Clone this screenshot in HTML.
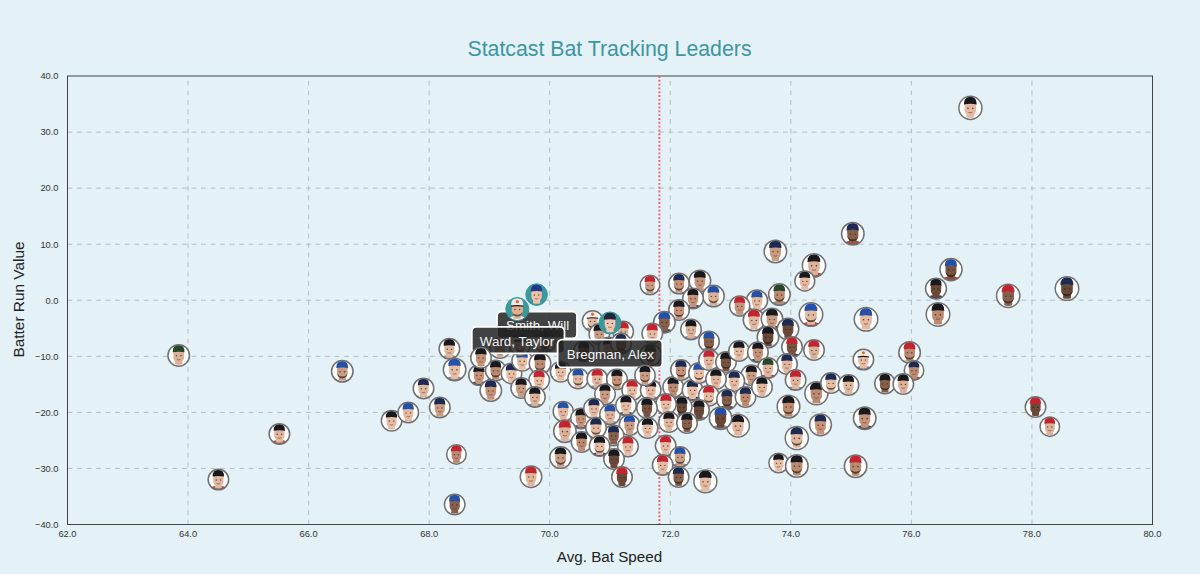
<!DOCTYPE html><html><head><meta charset="utf-8"><style>html,body{margin:0;padding:0;background:#e4f1f6;overflow:hidden;}svg{display:block;font-family:"Liberation Sans",sans-serif;}</style></head><body>
<svg width="1200" height="574" viewBox="0 0 1200 574">
<defs><clipPath id="fc"><circle cx="0" cy="0" r="10.6"/></clipPath></defs>
<rect width="1200" height="574" fill="#e4f1f6"/>
<g stroke="#b9bdbd" stroke-width="1" stroke-dasharray="4.77,4.77" fill="none"><line x1="188.06" y1="524.5" x2="188.06" y2="76.0"/><line x1="308.61" y1="524.5" x2="308.61" y2="76.0"/><line x1="429.17" y1="524.5" x2="429.17" y2="76.0"/><line x1="549.72" y1="524.5" x2="549.72" y2="76.0"/><line x1="670.28" y1="524.5" x2="670.28" y2="76.0"/><line x1="790.83" y1="524.5" x2="790.83" y2="76.0"/><line x1="911.39" y1="524.5" x2="911.39" y2="76.0"/><line x1="1031.94" y1="524.5" x2="1031.94" y2="76.0"/><line x1="67.5" y1="132.1" x2="1152.5" y2="132.1"/><line x1="67.5" y1="188.1" x2="1152.5" y2="188.1"/><line x1="67.5" y1="244.2" x2="1152.5" y2="244.2"/><line x1="67.5" y1="300.2" x2="1152.5" y2="300.2"/><line x1="67.5" y1="356.3" x2="1152.5" y2="356.3"/><line x1="67.5" y1="412.4" x2="1152.5" y2="412.4"/><line x1="67.5" y1="468.4" x2="1152.5" y2="468.4"/></g>
<rect x="67.5" y="76.0" width="1085.0" height="448.5" fill="none" stroke="#444" stroke-width="1"/>
<g font-size="9.3" fill="#333"><text x="67.5" y="537" text-anchor="middle">62.0</text><text x="188.1" y="537" text-anchor="middle">64.0</text><text x="308.6" y="537" text-anchor="middle">66.0</text><text x="429.2" y="537" text-anchor="middle">68.0</text><text x="549.7" y="537" text-anchor="middle">70.0</text><text x="670.3" y="537" text-anchor="middle">72.0</text><text x="790.8" y="537" text-anchor="middle">74.0</text><text x="911.4" y="537" text-anchor="middle">76.0</text><text x="1031.9" y="537" text-anchor="middle">78.0</text><text x="1152.5" y="537" text-anchor="middle">80.0</text><text x="58.5" y="79.3" text-anchor="end">40.0</text><text x="58.5" y="135.4" text-anchor="end">30.0</text><text x="58.5" y="191.4" text-anchor="end">20.0</text><text x="58.5" y="247.5" text-anchor="end">10.0</text><text x="58.5" y="303.6" text-anchor="end">0.0</text><text x="58.5" y="359.6" text-anchor="end">−10.0</text><text x="58.5" y="415.7" text-anchor="end">−20.0</text><text x="58.5" y="471.7" text-anchor="end">−30.0</text><text x="58.5" y="527.8" text-anchor="end">−40.0</text></g>
<text x="609.5" y="56.3" text-anchor="middle" font-size="21.3" fill="#3d96a1">Statcast Bat Tracking Leaders</text>
<text x="609.5" y="562.4" text-anchor="middle" font-size="15.2" fill="#222">Avg. Bat Speed</text>
<text transform="translate(23.5,299.5) rotate(-90)" text-anchor="middle" font-size="15.4" fill="#222">Batter Run Value</text>
<line x1="659.4" y1="76" x2="659.4" y2="524" stroke="#ec6870" stroke-width="2" stroke-dasharray="1.91,1.91"/>
<g transform="translate(178.7,355.4)"><circle r="10.75" fill="#fff"/><g transform="scale(1.019)" clip-path="url(#fc)"><path d="M-7.5,8.6 Q-6.5,6.8 -3,6.6 L3,6.6 Q6.5,6.8 7.5,8.6 L8,10.2 Q0,12.4 -8,10.2 Z" fill="#ffffff"/><path d="M-3.4,4 L3.4,4 L3.6,8.6 Q0,9.8 -3.6,8.6 Z" fill="#dcb199"/><path d="M-5.3,-4 L5.3,-4 L5.2,2.5 Q4.6,6.6 0,7 Q-4.6,6.6 -5.2,2.5 Z" fill="#dcb199"/><circle cx="-2.2" cy="0.4" r="0.75" fill="#2e211b" opacity="0.75"/><circle cx="2.2" cy="0.4" r="0.75" fill="#2e211b" opacity="0.75"/><path d="M-1.8,4 Q0,4.8 1.8,4" stroke="#6b3a2e" stroke-width="0.8" fill="none" opacity="0.7"/><path d="M-5.9,-3.2 Q-6.1,-10.2 0,-10.2 Q5.9,-10.2 5.7,-3.2 Q0,-4.2 -5.9,-3.2 Z" fill="#27472c"/></g><circle r="10.75" fill="none" stroke="#707070" stroke-width="1.5"/></g>
<g transform="translate(342.3,371.3)"><circle r="10.75" fill="#fff"/><g transform="scale(1.019)" clip-path="url(#fc)"><path d="M-7.5,8.6 Q-6.5,6.8 -3,6.6 L3,6.6 Q6.5,6.8 7.5,8.6 L8,10.2 Q0,12.4 -8,10.2 Z" fill="#ffffff"/><path d="M-3.4,4 L3.4,4 L3.6,8.6 Q0,9.8 -3.6,8.6 Z" fill="#c99d84"/><path d="M-5.3,-4 L5.3,-4 L5.2,2.5 Q4.6,6.6 0,7 Q-4.6,6.6 -5.2,2.5 Z" fill="#c99d84"/><circle cx="-2.2" cy="0.4" r="0.75" fill="#2e211b" opacity="0.75"/><circle cx="2.2" cy="0.4" r="0.75" fill="#2e211b" opacity="0.75"/><path d="M-4.9,2.2 Q-4.4,6.8 0,7 Q4.4,6.8 4.9,2.2 Q3.6,5.3 0,5.2 Q-3.6,5.3 -4.9,2.2 Z" fill="#2a1c16" opacity="0.7"/><path d="M-5.9,-3.2 Q-6.1,-10.2 0,-10.2 Q5.9,-10.2 5.7,-3.2 Q0,-4.2 -5.9,-3.2 Z" fill="#2450a8"/></g><circle r="10.75" fill="none" stroke="#707070" stroke-width="1.5"/></g>
<g transform="translate(279.4,433.9)"><circle r="10.25" fill="#fff"/><g transform="scale(0.975)" clip-path="url(#fc)"><path d="M-7.5,8.6 Q-6.5,6.8 -3,6.6 L3,6.6 Q6.5,6.8 7.5,8.6 L8,10.2 Q0,12.4 -8,10.2 Z" fill="#b84040"/><path d="M-3.4,4 L3.4,4 L3.6,8.6 Q0,9.8 -3.6,8.6 Z" fill="#e0b79e"/><path d="M-5.3,-4 L5.3,-4 L5.2,2.5 Q4.6,6.6 0,7 Q-4.6,6.6 -5.2,2.5 Z" fill="#e0b79e"/><circle cx="-2.2" cy="0.4" r="0.75" fill="#2e211b" opacity="0.75"/><circle cx="2.2" cy="0.4" r="0.75" fill="#2e211b" opacity="0.75"/><path d="M-1.8,4 Q0,4.8 1.8,4" stroke="#6b3a2e" stroke-width="0.8" fill="none" opacity="0.7"/><path d="M-5.9,-3.2 Q-6.1,-10.2 0,-10.2 Q5.9,-10.2 5.7,-3.2 Q0,-4.2 -5.9,-3.2 Z" fill="#18181f"/></g><circle r="10.25" fill="none" stroke="#707070" stroke-width="1.5"/></g>
<g transform="translate(218.4,479.6)"><circle r="10.25" fill="#fff"/><g transform="scale(0.975)" clip-path="url(#fc)"><path d="M-7.5,8.6 Q-6.5,6.8 -3,6.6 L3,6.6 Q6.5,6.8 7.5,8.6 L8,10.2 Q0,12.4 -8,10.2 Z" fill="#b84040"/><path d="M-3.4,4 L3.4,4 L3.6,8.6 Q0,9.8 -3.6,8.6 Z" fill="#e0b79e"/><path d="M-5.3,-4 L5.3,-4 L5.2,2.5 Q4.6,6.6 0,7 Q-4.6,6.6 -5.2,2.5 Z" fill="#e0b79e"/><circle cx="-2.2" cy="0.4" r="0.75" fill="#2e211b" opacity="0.75"/><circle cx="2.2" cy="0.4" r="0.75" fill="#2e211b" opacity="0.75"/><path d="M-1.8,4 Q0,4.8 1.8,4" stroke="#6b3a2e" stroke-width="0.8" fill="none" opacity="0.7"/><path d="M-5.9,-3.2 Q-6.1,-10.2 0,-10.2 Q5.9,-10.2 5.7,-3.2 Q0,-4.2 -5.9,-3.2 Z" fill="#18181f"/></g><circle r="10.25" fill="none" stroke="#707070" stroke-width="1.5"/></g>
<g transform="translate(391.6,420.7)"><circle r="10.25" fill="#fff"/><g transform="scale(0.975)" clip-path="url(#fc)"><path d="M-7.5,8.6 Q-6.5,6.8 -3,6.6 L3,6.6 Q6.5,6.8 7.5,8.6 L8,10.2 Q0,12.4 -8,10.2 Z" fill="#ffffff"/><path d="M-3.4,4 L3.4,4 L3.6,8.6 Q0,9.8 -3.6,8.6 Z" fill="#e6bea6"/><path d="M-5.3,-4 L5.3,-4 L5.2,2.5 Q4.6,6.6 0,7 Q-4.6,6.6 -5.2,2.5 Z" fill="#e6bea6"/><circle cx="-2.2" cy="0.4" r="0.75" fill="#2e211b" opacity="0.75"/><circle cx="2.2" cy="0.4" r="0.75" fill="#2e211b" opacity="0.75"/><path d="M-1.8,4 Q0,4.8 1.8,4" stroke="#6b3a2e" stroke-width="0.8" fill="none" opacity="0.7"/><path d="M-5.9,-3.2 Q-6.1,-10.2 0,-10.2 Q5.9,-10.2 5.7,-3.2 Q0,-4.2 -5.9,-3.2 Z" fill="#18181f"/></g><circle r="10.25" fill="none" stroke="#707070" stroke-width="1.5"/></g>
<g transform="translate(408.3,412.5)"><circle r="10.25" fill="#fff"/><g transform="scale(0.975)" clip-path="url(#fc)"><path d="M-7.5,8.6 Q-6.5,6.8 -3,6.6 L3,6.6 Q6.5,6.8 7.5,8.6 L8,10.2 Q0,12.4 -8,10.2 Z" fill="#ffffff"/><path d="M-3.4,4 L3.4,4 L3.6,8.6 Q0,9.8 -3.6,8.6 Z" fill="#e4baa2"/><path d="M-5.3,-4 L5.3,-4 L5.2,2.5 Q4.6,6.6 0,7 Q-4.6,6.6 -5.2,2.5 Z" fill="#e4baa2"/><circle cx="-2.2" cy="0.4" r="0.75" fill="#2e211b" opacity="0.75"/><circle cx="2.2" cy="0.4" r="0.75" fill="#2e211b" opacity="0.75"/><path d="M-1.8,4 Q0,4.8 1.8,4" stroke="#6b3a2e" stroke-width="0.8" fill="none" opacity="0.7"/><path d="M-5.9,-3.2 Q-6.1,-10.2 0,-10.2 Q5.9,-10.2 5.7,-3.2 Q0,-4.2 -5.9,-3.2 Z" fill="#2450a8"/></g><circle r="10.25" fill="none" stroke="#707070" stroke-width="1.5"/></g>
<g transform="translate(423.5,388.4)"><circle r="10.25" fill="#fff"/><g transform="scale(0.975)" clip-path="url(#fc)"><path d="M-7.5,8.6 Q-6.5,6.8 -3,6.6 L3,6.6 Q6.5,6.8 7.5,8.6 L8,10.2 Q0,12.4 -8,10.2 Z" fill="#e8e8ee"/><path d="M-3.4,4 L3.4,4 L3.6,8.6 Q0,9.8 -3.6,8.6 Z" fill="#e0b79e"/><path d="M-5.3,-4 L5.3,-4 L5.2,2.5 Q4.6,6.6 0,7 Q-4.6,6.6 -5.2,2.5 Z" fill="#e0b79e"/><circle cx="-2.2" cy="0.4" r="0.75" fill="#2e211b" opacity="0.75"/><circle cx="2.2" cy="0.4" r="0.75" fill="#2e211b" opacity="0.75"/><path d="M-1.8,4 Q0,4.8 1.8,4" stroke="#6b3a2e" stroke-width="0.8" fill="none" opacity="0.7"/><path d="M-5.9,-3.2 Q-6.1,-10.2 0,-10.2 Q5.9,-10.2 5.7,-3.2 Q0,-4.2 -5.9,-3.2 Z" fill="#1d2a52"/></g><circle r="10.25" fill="none" stroke="#707070" stroke-width="1.5"/></g>
<g transform="translate(439.8,407.5)"><circle r="10.25" fill="#fff"/><g transform="scale(0.975)" clip-path="url(#fc)"><path d="M-7.5,8.6 Q-6.5,6.8 -3,6.6 L3,6.6 Q6.5,6.8 7.5,8.6 L8,10.2 Q0,12.4 -8,10.2 Z" fill="#e8e8ee"/><path d="M-3.4,4 L3.4,4 L3.6,8.6 Q0,9.8 -3.6,8.6 Z" fill="#c99d84"/><path d="M-5.3,-4 L5.3,-4 L5.2,2.5 Q4.6,6.6 0,7 Q-4.6,6.6 -5.2,2.5 Z" fill="#c99d84"/><circle cx="-2.2" cy="0.4" r="0.75" fill="#2e211b" opacity="0.75"/><circle cx="2.2" cy="0.4" r="0.75" fill="#2e211b" opacity="0.75"/><path d="M-1.8,4 Q0,4.8 1.8,4" stroke="#6b3a2e" stroke-width="0.8" fill="none" opacity="0.7"/><path d="M-5.9,-3.2 Q-6.1,-10.2 0,-10.2 Q5.9,-10.2 5.7,-3.2 Q0,-4.2 -5.9,-3.2 Z" fill="#1d2a52"/></g><circle r="10.25" fill="none" stroke="#707070" stroke-width="1.5"/></g>
<g transform="translate(449.4,348.8)"><circle r="10.25" fill="#fff"/><g transform="scale(0.975)" clip-path="url(#fc)"><path d="M-7.5,8.6 Q-6.5,6.8 -3,6.6 L3,6.6 Q6.5,6.8 7.5,8.6 L8,10.2 Q0,12.4 -8,10.2 Z" fill="#8a8d98"/><path d="M-3.4,4 L3.4,4 L3.6,8.6 Q0,9.8 -3.6,8.6 Z" fill="#e0b79e"/><path d="M-5.3,-4 L5.3,-4 L5.2,2.5 Q4.6,6.6 0,7 Q-4.6,6.6 -5.2,2.5 Z" fill="#e0b79e"/><circle cx="-2.2" cy="0.4" r="0.75" fill="#2e211b" opacity="0.75"/><circle cx="2.2" cy="0.4" r="0.75" fill="#2e211b" opacity="0.75"/><path d="M-1.8,4 Q0,4.8 1.8,4" stroke="#6b3a2e" stroke-width="0.8" fill="none" opacity="0.7"/><path d="M-5.9,-3.2 Q-6.1,-10.2 0,-10.2 Q5.9,-10.2 5.7,-3.2 Q0,-4.2 -5.9,-3.2 Z" fill="#18181f"/></g><circle r="10.25" fill="none" stroke="#707070" stroke-width="1.5"/></g>
<g transform="translate(454.6,369.4)"><circle r="11.25" fill="#fff"/><g transform="scale(1.063)" clip-path="url(#fc)"><path d="M-7.5,8.6 Q-6.5,6.8 -3,6.6 L3,6.6 Q6.5,6.8 7.5,8.6 L8,10.2 Q0,12.4 -8,10.2 Z" fill="#8a8d98"/><path d="M-3.4,4 L3.4,4 L3.6,8.6 Q0,9.8 -3.6,8.6 Z" fill="#e6bea6"/><path d="M-5.3,-4 L5.3,-4 L5.2,2.5 Q4.6,6.6 0,7 Q-4.6,6.6 -5.2,2.5 Z" fill="#e6bea6"/><circle cx="-2.2" cy="0.4" r="0.75" fill="#2e211b" opacity="0.75"/><circle cx="2.2" cy="0.4" r="0.75" fill="#2e211b" opacity="0.75"/><path d="M-1.8,4 Q0,4.8 1.8,4" stroke="#6b3a2e" stroke-width="0.8" fill="none" opacity="0.7"/><path d="M-5.9,-3.2 Q-6.1,-10.2 0,-10.2 Q5.9,-10.2 5.7,-3.2 Q0,-4.2 -5.9,-3.2 Z" fill="#2450a8"/></g><circle r="11.25" fill="none" stroke="#707070" stroke-width="1.5"/></g>
<g transform="translate(456.4,454.4)"><circle r="9.75" fill="#fff"/><g transform="scale(0.930)" clip-path="url(#fc)"><path d="M-7.5,8.6 Q-6.5,6.8 -3,6.6 L3,6.6 Q6.5,6.8 7.5,8.6 L8,10.2 Q0,12.4 -8,10.2 Z" fill="#f0f0f0"/><path d="M-3.4,4 L3.4,4 L3.6,8.6 Q0,9.8 -3.6,8.6 Z" fill="#bb8a70"/><path d="M-5.3,-4 L5.3,-4 L5.2,2.5 Q4.6,6.6 0,7 Q-4.6,6.6 -5.2,2.5 Z" fill="#bb8a70"/><circle cx="-2.2" cy="0.4" r="0.75" fill="#2e211b" opacity="0.75"/><circle cx="2.2" cy="0.4" r="0.75" fill="#2e211b" opacity="0.75"/><path d="M-1.8,4 Q0,4.8 1.8,4" stroke="#6b3a2e" stroke-width="0.8" fill="none" opacity="0.7"/><path d="M-5.9,-3.2 Q-6.1,-10.2 0,-10.2 Q5.9,-10.2 5.7,-3.2 Q0,-4.2 -5.9,-3.2 Z" fill="#c42430"/></g><circle r="9.75" fill="none" stroke="#707070" stroke-width="1.5"/></g>
<g transform="translate(454.7,504.5)"><circle r="10.25" fill="#fff"/><g transform="scale(0.975)" clip-path="url(#fc)"><path d="M-7.5,8.6 Q-6.5,6.8 -3,6.6 L3,6.6 Q6.5,6.8 7.5,8.6 L8,10.2 Q0,12.4 -8,10.2 Z" fill="#f4f4f6"/><path d="M-3.4,4 L3.4,4 L3.6,8.6 Q0,9.8 -3.6,8.6 Z" fill="#85604c"/><path d="M-5.3,-4 L5.3,-4 L5.2,2.5 Q4.6,6.6 0,7 Q-4.6,6.6 -5.2,2.5 Z" fill="#85604c"/><circle cx="-2.2" cy="0.4" r="0.75" fill="#2e211b" opacity="0.75"/><circle cx="2.2" cy="0.4" r="0.75" fill="#2e211b" opacity="0.75"/><path d="M-1.8,4 Q0,4.8 1.8,4" stroke="#6b3a2e" stroke-width="0.8" fill="none" opacity="0.7"/><path d="M-5.9,-3.2 Q-6.1,-10.2 0,-10.2 Q5.9,-10.2 5.7,-3.2 Q0,-4.2 -5.9,-3.2 Z" fill="#2450a8"/></g><circle r="10.25" fill="none" stroke="#707070" stroke-width="1.5"/></g>
<g transform="translate(970.4,107.9)"><circle r="11.55" fill="#fff"/><g transform="scale(1.090)" clip-path="url(#fc)"><path d="M-7.5,8.6 Q-6.5,6.8 -3,6.6 L3,6.6 Q6.5,6.8 7.5,8.6 L8,10.2 Q0,12.4 -8,10.2 Z" fill="#ffffff"/><path d="M-3.4,4 L3.4,4 L3.6,8.6 Q0,9.8 -3.6,8.6 Z" fill="#e4baa2"/><path d="M-5.3,-4 L5.3,-4 L5.2,2.5 Q4.6,6.6 0,7 Q-4.6,6.6 -5.2,2.5 Z" fill="#e4baa2"/><circle cx="-2.2" cy="0.4" r="0.75" fill="#2e211b" opacity="0.75"/><circle cx="2.2" cy="0.4" r="0.75" fill="#2e211b" opacity="0.75"/><path d="M-1.8,4 Q0,4.8 1.8,4" stroke="#6b3a2e" stroke-width="0.8" fill="none" opacity="0.7"/><path d="M-5.9,-3.2 Q-6.1,-10.2 0,-10.2 Q5.9,-10.2 5.7,-3.2 Q0,-4.2 -5.9,-3.2 Z" fill="#18181f"/></g><circle r="11.55" fill="none" stroke="#707070" stroke-width="1.5"/></g>
<g transform="translate(852.8,233.8)"><circle r="11.25" fill="#fff"/><g transform="scale(1.063)" clip-path="url(#fc)"><path d="M-7.5,8.6 Q-6.5,6.8 -3,6.6 L3,6.6 Q6.5,6.8 7.5,8.6 L8,10.2 Q0,12.4 -8,10.2 Z" fill="#b84040"/><path d="M-3.4,4 L3.4,4 L3.6,8.6 Q0,9.8 -3.6,8.6 Z" fill="#85604c"/><path d="M-5.3,-4 L5.3,-4 L5.2,2.5 Q4.6,6.6 0,7 Q-4.6,6.6 -5.2,2.5 Z" fill="#85604c"/><circle cx="-2.2" cy="0.4" r="0.75" fill="#2e211b" opacity="0.75"/><circle cx="2.2" cy="0.4" r="0.75" fill="#2e211b" opacity="0.75"/><path d="M-4.9,2.2 Q-4.4,6.8 0,7 Q4.4,6.8 4.9,2.2 Q3.6,5.3 0,5.2 Q-3.6,5.3 -4.9,2.2 Z" fill="#2a1c16" opacity="0.7"/><path d="M-5.9,-3.2 Q-6.1,-10.2 0,-10.2 Q5.9,-10.2 5.7,-3.2 Q0,-4.2 -5.9,-3.2 Z" fill="#1d2a52"/></g><circle r="11.25" fill="none" stroke="#707070" stroke-width="1.5"/></g>
<g transform="translate(951.0,269.6)"><circle r="11.05" fill="#fff"/><g transform="scale(1.046)" clip-path="url(#fc)"><path d="M-7.5,8.6 Q-6.5,6.8 -3,6.6 L3,6.6 Q6.5,6.8 7.5,8.6 L8,10.2 Q0,12.4 -8,10.2 Z" fill="#b84040"/><path d="M-3.4,4 L3.4,4 L3.6,8.6 Q0,9.8 -3.6,8.6 Z" fill="#775342"/><path d="M-5.3,-4 L5.3,-4 L5.2,2.5 Q4.6,6.6 0,7 Q-4.6,6.6 -5.2,2.5 Z" fill="#775342"/><circle cx="-2.2" cy="0.4" r="0.75" fill="#2e211b" opacity="0.75"/><circle cx="2.2" cy="0.4" r="0.75" fill="#2e211b" opacity="0.75"/><path d="M-4.9,2.2 Q-4.4,6.8 0,7 Q4.4,6.8 4.9,2.2 Q3.6,5.3 0,5.2 Q-3.6,5.3 -4.9,2.2 Z" fill="#2a1c16" opacity="0.7"/><path d="M-5.9,-3.2 Q-6.1,-10.2 0,-10.2 Q5.9,-10.2 5.7,-3.2 Q0,-4.2 -5.9,-3.2 Z" fill="#2450a8"/></g><circle r="11.05" fill="none" stroke="#707070" stroke-width="1.5"/></g>
<g transform="translate(936.0,288.6)"><circle r="10.45" fill="#fff"/><g transform="scale(0.993)" clip-path="url(#fc)"><path d="M-7.5,8.6 Q-6.5,6.8 -3,6.6 L3,6.6 Q6.5,6.8 7.5,8.6 L8,10.2 Q0,12.4 -8,10.2 Z" fill="#34406a"/><path d="M-3.4,4 L3.4,4 L3.6,8.6 Q0,9.8 -3.6,8.6 Z" fill="#694838"/><path d="M-5.3,-4 L5.3,-4 L5.2,2.5 Q4.6,6.6 0,7 Q-4.6,6.6 -5.2,2.5 Z" fill="#694838"/><circle cx="-2.2" cy="0.4" r="0.75" fill="#2e211b" opacity="0.75"/><circle cx="2.2" cy="0.4" r="0.75" fill="#2e211b" opacity="0.75"/><path d="M-1.8,4 Q0,4.8 1.8,4" stroke="#6b3a2e" stroke-width="0.8" fill="none" opacity="0.7"/><path d="M-5.9,-3.2 Q-6.1,-10.2 0,-10.2 Q5.9,-10.2 5.7,-3.2 Q0,-4.2 -5.9,-3.2 Z" fill="#18181f"/></g><circle r="10.45" fill="none" stroke="#707070" stroke-width="1.5"/></g>
<g transform="translate(938.0,314.4)"><circle r="11.75" fill="#fff"/><g transform="scale(1.108)" clip-path="url(#fc)"><path d="M-7.5,8.6 Q-6.5,6.8 -3,6.6 L3,6.6 Q6.5,6.8 7.5,8.6 L8,10.2 Q0,12.4 -8,10.2 Z" fill="#f0f0f0"/><path d="M-3.4,4 L3.4,4 L3.6,8.6 Q0,9.8 -3.6,8.6 Z" fill="#bb8a70"/><path d="M-5.3,-4 L5.3,-4 L5.2,2.5 Q4.6,6.6 0,7 Q-4.6,6.6 -5.2,2.5 Z" fill="#bb8a70"/><circle cx="-2.2" cy="0.4" r="0.75" fill="#2e211b" opacity="0.75"/><circle cx="2.2" cy="0.4" r="0.75" fill="#2e211b" opacity="0.75"/><path d="M-1.8,4 Q0,4.8 1.8,4" stroke="#6b3a2e" stroke-width="0.8" fill="none" opacity="0.7"/><path d="M-5.9,-3.2 Q-6.1,-10.2 0,-10.2 Q5.9,-10.2 5.7,-3.2 Q0,-4.2 -5.9,-3.2 Z" fill="#18181f"/></g><circle r="11.75" fill="none" stroke="#707070" stroke-width="1.5"/></g>
<g transform="translate(1008.2,295.8)"><circle r="11.65" fill="#fff"/><g transform="scale(1.099)" clip-path="url(#fc)"><path d="M-7.5,8.6 Q-6.5,6.8 -3,6.6 L3,6.6 Q6.5,6.8 7.5,8.6 L8,10.2 Q0,12.4 -8,10.2 Z" fill="#f4f4f6"/><path d="M-3.4,4 L3.4,4 L3.6,8.6 Q0,9.8 -3.6,8.6 Z" fill="#85604c"/><path d="M-5.3,-4 L5.3,-4 L5.2,2.5 Q4.6,6.6 0,7 Q-4.6,6.6 -5.2,2.5 Z" fill="#85604c"/><circle cx="-2.2" cy="0.4" r="0.75" fill="#2e211b" opacity="0.75"/><circle cx="2.2" cy="0.4" r="0.75" fill="#2e211b" opacity="0.75"/><path d="M-4.9,2.2 Q-4.4,6.8 0,7 Q4.4,6.8 4.9,2.2 Q3.6,5.3 0,5.2 Q-3.6,5.3 -4.9,2.2 Z" fill="#2a1c16" opacity="0.7"/><path d="M-5.9,-3.2 Q-6.1,-10.2 0,-10.2 Q5.9,-10.2 5.7,-3.2 Q0,-4.2 -5.9,-3.2 Z" fill="#c42430"/></g><circle r="11.65" fill="none" stroke="#707070" stroke-width="1.5"/></g>
<g transform="translate(1067.0,288.6)"><circle r="11.75" fill="#fff"/><g transform="scale(1.108)" clip-path="url(#fc)"><path d="M-7.5,8.6 Q-6.5,6.8 -3,6.6 L3,6.6 Q6.5,6.8 7.5,8.6 L8,10.2 Q0,12.4 -8,10.2 Z" fill="#f0f0f0"/><path d="M-3.4,4 L3.4,4 L3.6,8.6 Q0,9.8 -3.6,8.6 Z" fill="#694838"/><path d="M-5.3,-4 L5.3,-4 L5.2,2.5 Q4.6,6.6 0,7 Q-4.6,6.6 -5.2,2.5 Z" fill="#694838"/><circle cx="-2.2" cy="0.4" r="0.75" fill="#2e211b" opacity="0.75"/><circle cx="2.2" cy="0.4" r="0.75" fill="#2e211b" opacity="0.75"/><path d="M-4.9,2.2 Q-4.4,6.8 0,7 Q4.4,6.8 4.9,2.2 Q3.6,5.3 0,5.2 Q-3.6,5.3 -4.9,2.2 Z" fill="#2a1c16" opacity="0.7"/><path d="M-5.9,-3.2 Q-6.1,-10.2 0,-10.2 Q5.9,-10.2 5.7,-3.2 Q0,-4.2 -5.9,-3.2 Z" fill="#1d2a52"/></g><circle r="11.75" fill="none" stroke="#707070" stroke-width="1.5"/></g>
<g transform="translate(866.0,319.3)"><circle r="11.75" fill="#fff"/><g transform="scale(1.108)" clip-path="url(#fc)"><path d="M-7.5,8.6 Q-6.5,6.8 -3,6.6 L3,6.6 Q6.5,6.8 7.5,8.6 L8,10.2 Q0,12.4 -8,10.2 Z" fill="#f0f0f0"/><path d="M-3.4,4 L3.4,4 L3.6,8.6 Q0,9.8 -3.6,8.6 Z" fill="#e4baa2"/><path d="M-5.3,-4 L5.3,-4 L5.2,2.5 Q4.6,6.6 0,7 Q-4.6,6.6 -5.2,2.5 Z" fill="#e4baa2"/><circle cx="-2.2" cy="0.4" r="0.75" fill="#2e211b" opacity="0.75"/><circle cx="2.2" cy="0.4" r="0.75" fill="#2e211b" opacity="0.75"/><path d="M-1.8,4 Q0,4.8 1.8,4" stroke="#6b3a2e" stroke-width="0.8" fill="none" opacity="0.7"/><path d="M-5.9,-3.2 Q-6.1,-10.2 0,-10.2 Q5.9,-10.2 5.7,-3.2 Q0,-4.2 -5.9,-3.2 Z" fill="#2450a8"/></g><circle r="11.75" fill="none" stroke="#707070" stroke-width="1.5"/></g>
<g transform="translate(775.4,251.4)"><circle r="11.25" fill="#fff"/><g transform="scale(1.063)" clip-path="url(#fc)"><path d="M-7.5,8.6 Q-6.5,6.8 -3,6.6 L3,6.6 Q6.5,6.8 7.5,8.6 L8,10.2 Q0,12.4 -8,10.2 Z" fill="#ffffff"/><path d="M-3.4,4 L3.4,4 L3.6,8.6 Q0,9.8 -3.6,8.6 Z" fill="#c99d84"/><path d="M-5.3,-4 L5.3,-4 L5.2,2.5 Q4.6,6.6 0,7 Q-4.6,6.6 -5.2,2.5 Z" fill="#c99d84"/><circle cx="-2.2" cy="0.4" r="0.75" fill="#2e211b" opacity="0.75"/><circle cx="2.2" cy="0.4" r="0.75" fill="#2e211b" opacity="0.75"/><path d="M-1.8,4 Q0,4.8 1.8,4" stroke="#6b3a2e" stroke-width="0.8" fill="none" opacity="0.7"/><path d="M-5.9,-3.2 Q-6.1,-10.2 0,-10.2 Q5.9,-10.2 5.7,-3.2 Q0,-4.2 -5.9,-3.2 Z" fill="#1d2a52"/></g><circle r="11.25" fill="none" stroke="#707070" stroke-width="1.5"/></g>
<g transform="translate(814.0,265.4)"><circle r="11.60" fill="#fff"/><g transform="scale(1.094)" clip-path="url(#fc)"><path d="M-7.5,8.6 Q-6.5,6.8 -3,6.6 L3,6.6 Q6.5,6.8 7.5,8.6 L8,10.2 Q0,12.4 -8,10.2 Z" fill="#b84040"/><path d="M-3.4,4 L3.4,4 L3.6,8.6 Q0,9.8 -3.6,8.6 Z" fill="#dcb199"/><path d="M-5.3,-4 L5.3,-4 L5.2,2.5 Q4.6,6.6 0,7 Q-4.6,6.6 -5.2,2.5 Z" fill="#dcb199"/><circle cx="-2.2" cy="0.4" r="0.75" fill="#2e211b" opacity="0.75"/><circle cx="2.2" cy="0.4" r="0.75" fill="#2e211b" opacity="0.75"/><path d="M-1.8,4 Q0,4.8 1.8,4" stroke="#6b3a2e" stroke-width="0.8" fill="none" opacity="0.7"/><path d="M-5.9,-3.2 Q-6.1,-10.2 0,-10.2 Q5.9,-10.2 5.7,-3.2 Q0,-4.2 -5.9,-3.2 Z" fill="#18181f"/></g><circle r="11.60" fill="none" stroke="#707070" stroke-width="1.5"/></g>
<g transform="translate(804.8,281.0)"><circle r="9.95" fill="#fff"/><g transform="scale(0.948)" clip-path="url(#fc)"><path d="M-7.5,8.6 Q-6.5,6.8 -3,6.6 L3,6.6 Q6.5,6.8 7.5,8.6 L8,10.2 Q0,12.4 -8,10.2 Z" fill="#f0f0f0"/><path d="M-3.4,4 L3.4,4 L3.6,8.6 Q0,9.8 -3.6,8.6 Z" fill="#e4baa2"/><path d="M-5.3,-4 L5.3,-4 L5.2,2.5 Q4.6,6.6 0,7 Q-4.6,6.6 -5.2,2.5 Z" fill="#e4baa2"/><circle cx="-2.2" cy="0.4" r="0.75" fill="#2e211b" opacity="0.75"/><circle cx="2.2" cy="0.4" r="0.75" fill="#2e211b" opacity="0.75"/><path d="M-1.8,4 Q0,4.8 1.8,4" stroke="#6b3a2e" stroke-width="0.8" fill="none" opacity="0.7"/><path d="M-5.9,-3.2 Q-6.1,-10.2 0,-10.2 Q5.9,-10.2 5.7,-3.2 Q0,-4.2 -5.9,-3.2 Z" fill="#18181f"/></g><circle r="9.95" fill="none" stroke="#707070" stroke-width="1.5"/></g>
<g transform="translate(779.4,294.6)"><circle r="10.75" fill="#fff"/><g transform="scale(1.019)" clip-path="url(#fc)"><path d="M-7.5,8.6 Q-6.5,6.8 -3,6.6 L3,6.6 Q6.5,6.8 7.5,8.6 L8,10.2 Q0,12.4 -8,10.2 Z" fill="#8a8d98"/><path d="M-3.4,4 L3.4,4 L3.6,8.6 Q0,9.8 -3.6,8.6 Z" fill="#bb8a70"/><path d="M-5.3,-4 L5.3,-4 L5.2,2.5 Q4.6,6.6 0,7 Q-4.6,6.6 -5.2,2.5 Z" fill="#bb8a70"/><circle cx="-2.2" cy="0.4" r="0.75" fill="#2e211b" opacity="0.75"/><circle cx="2.2" cy="0.4" r="0.75" fill="#2e211b" opacity="0.75"/><path d="M-4.9,2.2 Q-4.4,6.8 0,7 Q4.4,6.8 4.9,2.2 Q3.6,5.3 0,5.2 Q-3.6,5.3 -4.9,2.2 Z" fill="#2a1c16" opacity="0.7"/><path d="M-5.9,-3.2 Q-6.1,-10.2 0,-10.2 Q5.9,-10.2 5.7,-3.2 Q0,-4.2 -5.9,-3.2 Z" fill="#27472c"/></g><circle r="10.75" fill="none" stroke="#707070" stroke-width="1.5"/></g>
<g transform="translate(757.0,300.6)"><circle r="10.55" fill="#fff"/><g transform="scale(1.001)" clip-path="url(#fc)"><path d="M-7.5,8.6 Q-6.5,6.8 -3,6.6 L3,6.6 Q6.5,6.8 7.5,8.6 L8,10.2 Q0,12.4 -8,10.2 Z" fill="#d5d8e0"/><path d="M-3.4,4 L3.4,4 L3.6,8.6 Q0,9.8 -3.6,8.6 Z" fill="#e4baa2"/><path d="M-5.3,-4 L5.3,-4 L5.2,2.5 Q4.6,6.6 0,7 Q-4.6,6.6 -5.2,2.5 Z" fill="#e4baa2"/><circle cx="-2.2" cy="0.4" r="0.75" fill="#2e211b" opacity="0.75"/><circle cx="2.2" cy="0.4" r="0.75" fill="#2e211b" opacity="0.75"/><path d="M-1.8,4 Q0,4.8 1.8,4" stroke="#6b3a2e" stroke-width="0.8" fill="none" opacity="0.7"/><path d="M-5.9,-3.2 Q-6.1,-10.2 0,-10.2 Q5.9,-10.2 5.7,-3.2 Q0,-4.2 -5.9,-3.2 Z" fill="#2450a8"/></g><circle r="10.55" fill="none" stroke="#707070" stroke-width="1.5"/></g>
<g transform="translate(739.7,306.0)"><circle r="10.05" fill="#fff"/><g transform="scale(0.957)" clip-path="url(#fc)"><path d="M-7.5,8.6 Q-6.5,6.8 -3,6.6 L3,6.6 Q6.5,6.8 7.5,8.6 L8,10.2 Q0,12.4 -8,10.2 Z" fill="#d5d8e0"/><path d="M-3.4,4 L3.4,4 L3.6,8.6 Q0,9.8 -3.6,8.6 Z" fill="#c4937a"/><path d="M-5.3,-4 L5.3,-4 L5.2,2.5 Q4.6,6.6 0,7 Q-4.6,6.6 -5.2,2.5 Z" fill="#c4937a"/><circle cx="-2.2" cy="0.4" r="0.75" fill="#2e211b" opacity="0.75"/><circle cx="2.2" cy="0.4" r="0.75" fill="#2e211b" opacity="0.75"/><path d="M-1.8,4 Q0,4.8 1.8,4" stroke="#6b3a2e" stroke-width="0.8" fill="none" opacity="0.7"/><path d="M-5.9,-3.2 Q-6.1,-10.2 0,-10.2 Q5.9,-10.2 5.7,-3.2 Q0,-4.2 -5.9,-3.2 Z" fill="#c42430"/></g><circle r="10.05" fill="none" stroke="#707070" stroke-width="1.5"/></g>
<g transform="translate(754.0,320.0)"><circle r="10.75" fill="#fff"/><g transform="scale(1.019)" clip-path="url(#fc)"><path d="M-7.5,8.6 Q-6.5,6.8 -3,6.6 L3,6.6 Q6.5,6.8 7.5,8.6 L8,10.2 Q0,12.4 -8,10.2 Z" fill="#ffffff"/><path d="M-3.4,4 L3.4,4 L3.6,8.6 Q0,9.8 -3.6,8.6 Z" fill="#e0b79e"/><path d="M-5.3,-4 L5.3,-4 L5.2,2.5 Q4.6,6.6 0,7 Q-4.6,6.6 -5.2,2.5 Z" fill="#e0b79e"/><circle cx="-2.2" cy="0.4" r="0.75" fill="#2e211b" opacity="0.75"/><circle cx="2.2" cy="0.4" r="0.75" fill="#2e211b" opacity="0.75"/><path d="M-1.8,4 Q0,4.8 1.8,4" stroke="#6b3a2e" stroke-width="0.8" fill="none" opacity="0.7"/><path d="M-5.9,-3.2 Q-6.1,-10.2 0,-10.2 Q5.9,-10.2 5.7,-3.2 Q0,-4.2 -5.9,-3.2 Z" fill="#c42430"/></g><circle r="10.75" fill="none" stroke="#707070" stroke-width="1.5"/></g>
<g transform="translate(772.0,319.0)"><circle r="10.75" fill="#fff"/><g transform="scale(1.019)" clip-path="url(#fc)"><path d="M-7.5,8.6 Q-6.5,6.8 -3,6.6 L3,6.6 Q6.5,6.8 7.5,8.6 L8,10.2 Q0,12.4 -8,10.2 Z" fill="#34406a"/><path d="M-3.4,4 L3.4,4 L3.6,8.6 Q0,9.8 -3.6,8.6 Z" fill="#c99d84"/><path d="M-5.3,-4 L5.3,-4 L5.2,2.5 Q4.6,6.6 0,7 Q-4.6,6.6 -5.2,2.5 Z" fill="#c99d84"/><circle cx="-2.2" cy="0.4" r="0.75" fill="#2e211b" opacity="0.75"/><circle cx="2.2" cy="0.4" r="0.75" fill="#2e211b" opacity="0.75"/><path d="M-1.8,4 Q0,4.8 1.8,4" stroke="#6b3a2e" stroke-width="0.8" fill="none" opacity="0.7"/><path d="M-5.9,-3.2 Q-6.1,-10.2 0,-10.2 Q5.9,-10.2 5.7,-3.2 Q0,-4.2 -5.9,-3.2 Z" fill="#18181f"/></g><circle r="10.75" fill="none" stroke="#707070" stroke-width="1.5"/></g>
<g transform="translate(788.0,329.0)"><circle r="10.75" fill="#fff"/><g transform="scale(1.019)" clip-path="url(#fc)"><path d="M-7.5,8.6 Q-6.5,6.8 -3,6.6 L3,6.6 Q6.5,6.8 7.5,8.6 L8,10.2 Q0,12.4 -8,10.2 Z" fill="#ffffff"/><path d="M-3.4,4 L3.4,4 L3.6,8.6 Q0,9.8 -3.6,8.6 Z" fill="#694838"/><path d="M-5.3,-4 L5.3,-4 L5.2,2.5 Q4.6,6.6 0,7 Q-4.6,6.6 -5.2,2.5 Z" fill="#694838"/><circle cx="-2.2" cy="0.4" r="0.75" fill="#2e211b" opacity="0.75"/><circle cx="2.2" cy="0.4" r="0.75" fill="#2e211b" opacity="0.75"/><path d="M-1.8,4 Q0,4.8 1.8,4" stroke="#6b3a2e" stroke-width="0.8" fill="none" opacity="0.7"/><path d="M-5.9,-3.2 Q-6.1,-10.2 0,-10.2 Q5.9,-10.2 5.7,-3.2 Q0,-4.2 -5.9,-3.2 Z" fill="#1d2a52"/></g><circle r="10.75" fill="none" stroke="#707070" stroke-width="1.5"/></g>
<g transform="translate(811.0,314.6)"><circle r="11.75" fill="#fff"/><g transform="scale(1.108)" clip-path="url(#fc)"><path d="M-7.5,8.6 Q-6.5,6.8 -3,6.6 L3,6.6 Q6.5,6.8 7.5,8.6 L8,10.2 Q0,12.4 -8,10.2 Z" fill="#b84040"/><path d="M-3.4,4 L3.4,4 L3.6,8.6 Q0,9.8 -3.6,8.6 Z" fill="#e4baa2"/><path d="M-5.3,-4 L5.3,-4 L5.2,2.5 Q4.6,6.6 0,7 Q-4.6,6.6 -5.2,2.5 Z" fill="#e4baa2"/><circle cx="-2.2" cy="0.4" r="0.75" fill="#2e211b" opacity="0.75"/><circle cx="2.2" cy="0.4" r="0.75" fill="#2e211b" opacity="0.75"/><path d="M-4.9,2.2 Q-4.4,6.8 0,7 Q4.4,6.8 4.9,2.2 Q3.6,5.3 0,5.2 Q-3.6,5.3 -4.9,2.2 Z" fill="#2a1c16" opacity="0.7"/><path d="M-5.9,-3.2 Q-6.1,-10.2 0,-10.2 Q5.9,-10.2 5.7,-3.2 Q0,-4.2 -5.9,-3.2 Z" fill="#2450a8"/></g><circle r="11.75" fill="none" stroke="#707070" stroke-width="1.5"/></g>
<g transform="translate(650.0,285.0)"><circle r="9.75" fill="#fff"/><g transform="scale(0.930)" clip-path="url(#fc)"><path d="M-7.5,8.6 Q-6.5,6.8 -3,6.6 L3,6.6 Q6.5,6.8 7.5,8.6 L8,10.2 Q0,12.4 -8,10.2 Z" fill="#d5d8e0"/><path d="M-3.4,4 L3.4,4 L3.6,8.6 Q0,9.8 -3.6,8.6 Z" fill="#c99d84"/><path d="M-5.3,-4 L5.3,-4 L5.2,2.5 Q4.6,6.6 0,7 Q-4.6,6.6 -5.2,2.5 Z" fill="#c99d84"/><circle cx="-2.2" cy="0.4" r="0.75" fill="#2e211b" opacity="0.75"/><circle cx="2.2" cy="0.4" r="0.75" fill="#2e211b" opacity="0.75"/><path d="M-4.9,2.2 Q-4.4,6.8 0,7 Q4.4,6.8 4.9,2.2 Q3.6,5.3 0,5.2 Q-3.6,5.3 -4.9,2.2 Z" fill="#2a1c16" opacity="0.7"/><path d="M-5.9,-3.2 Q-6.1,-10.2 0,-10.2 Q5.9,-10.2 5.7,-3.2 Q0,-4.2 -5.9,-3.2 Z" fill="#c42430"/></g><circle r="9.75" fill="none" stroke="#707070" stroke-width="1.5"/></g>
<g transform="translate(679.0,283.6)"><circle r="10.25" fill="#fff"/><g transform="scale(0.975)" clip-path="url(#fc)"><path d="M-7.5,8.6 Q-6.5,6.8 -3,6.6 L3,6.6 Q6.5,6.8 7.5,8.6 L8,10.2 Q0,12.4 -8,10.2 Z" fill="#f4f4f6"/><path d="M-3.4,4 L3.4,4 L3.6,8.6 Q0,9.8 -3.6,8.6 Z" fill="#c4937a"/><path d="M-5.3,-4 L5.3,-4 L5.2,2.5 Q4.6,6.6 0,7 Q-4.6,6.6 -5.2,2.5 Z" fill="#c4937a"/><circle cx="-2.2" cy="0.4" r="0.75" fill="#2e211b" opacity="0.75"/><circle cx="2.2" cy="0.4" r="0.75" fill="#2e211b" opacity="0.75"/><path d="M-4.9,2.2 Q-4.4,6.8 0,7 Q4.4,6.8 4.9,2.2 Q3.6,5.3 0,5.2 Q-3.6,5.3 -4.9,2.2 Z" fill="#2a1c16" opacity="0.7"/><path d="M-5.9,-3.2 Q-6.1,-10.2 0,-10.2 Q5.9,-10.2 5.7,-3.2 Q0,-4.2 -5.9,-3.2 Z" fill="#1d2a52"/></g><circle r="10.25" fill="none" stroke="#707070" stroke-width="1.5"/></g>
<g transform="translate(699.9,280.9)"><circle r="10.75" fill="#fff"/><g transform="scale(1.019)" clip-path="url(#fc)"><path d="M-7.5,8.6 Q-6.5,6.8 -3,6.6 L3,6.6 Q6.5,6.8 7.5,8.6 L8,10.2 Q0,12.4 -8,10.2 Z" fill="#e8e8ee"/><path d="M-3.4,4 L3.4,4 L3.6,8.6 Q0,9.8 -3.6,8.6 Z" fill="#c4937a"/><path d="M-5.3,-4 L5.3,-4 L5.2,2.5 Q4.6,6.6 0,7 Q-4.6,6.6 -5.2,2.5 Z" fill="#c4937a"/><circle cx="-2.2" cy="0.4" r="0.75" fill="#2e211b" opacity="0.75"/><circle cx="2.2" cy="0.4" r="0.75" fill="#2e211b" opacity="0.75"/><path d="M-1.8,4 Q0,4.8 1.8,4" stroke="#6b3a2e" stroke-width="0.8" fill="none" opacity="0.7"/><path d="M-5.9,-3.2 Q-6.1,-10.2 0,-10.2 Q5.9,-10.2 5.7,-3.2 Q0,-4.2 -5.9,-3.2 Z" fill="#18181f"/></g><circle r="10.75" fill="none" stroke="#707070" stroke-width="1.5"/></g>
<g transform="translate(713.5,296.1)"><circle r="10.75" fill="#fff"/><g transform="scale(1.019)" clip-path="url(#fc)"><path d="M-7.5,8.6 Q-6.5,6.8 -3,6.6 L3,6.6 Q6.5,6.8 7.5,8.6 L8,10.2 Q0,12.4 -8,10.2 Z" fill="#d5d8e0"/><path d="M-3.4,4 L3.4,4 L3.6,8.6 Q0,9.8 -3.6,8.6 Z" fill="#dcb199"/><path d="M-5.3,-4 L5.3,-4 L5.2,2.5 Q4.6,6.6 0,7 Q-4.6,6.6 -5.2,2.5 Z" fill="#dcb199"/><circle cx="-2.2" cy="0.4" r="0.75" fill="#2e211b" opacity="0.75"/><circle cx="2.2" cy="0.4" r="0.75" fill="#2e211b" opacity="0.75"/><path d="M-4.9,2.2 Q-4.4,6.8 0,7 Q4.4,6.8 4.9,2.2 Q3.6,5.3 0,5.2 Q-3.6,5.3 -4.9,2.2 Z" fill="#2a1c16" opacity="0.7"/><path d="M-5.9,-3.2 Q-6.1,-10.2 0,-10.2 Q5.9,-10.2 5.7,-3.2 Q0,-4.2 -5.9,-3.2 Z" fill="#2450a8"/></g><circle r="10.75" fill="none" stroke="#707070" stroke-width="1.5"/></g>
<g transform="translate(693.0,298.4)"><circle r="10.25" fill="#fff"/><g transform="scale(0.975)" clip-path="url(#fc)"><path d="M-7.5,8.6 Q-6.5,6.8 -3,6.6 L3,6.6 Q6.5,6.8 7.5,8.6 L8,10.2 Q0,12.4 -8,10.2 Z" fill="#34406a"/><path d="M-3.4,4 L3.4,4 L3.6,8.6 Q0,9.8 -3.6,8.6 Z" fill="#c4937a"/><path d="M-5.3,-4 L5.3,-4 L5.2,2.5 Q4.6,6.6 0,7 Q-4.6,6.6 -5.2,2.5 Z" fill="#c4937a"/><circle cx="-2.2" cy="0.4" r="0.75" fill="#2e211b" opacity="0.75"/><circle cx="2.2" cy="0.4" r="0.75" fill="#2e211b" opacity="0.75"/><path d="M-1.8,4 Q0,4.8 1.8,4" stroke="#6b3a2e" stroke-width="0.8" fill="none" opacity="0.7"/><path d="M-5.9,-3.2 Q-6.1,-10.2 0,-10.2 Q5.9,-10.2 5.7,-3.2 Q0,-4.2 -5.9,-3.2 Z" fill="#18181f"/></g><circle r="10.25" fill="none" stroke="#707070" stroke-width="1.5"/></g>
<g transform="translate(679.0,310.0)"><circle r="10.25" fill="#fff"/><g transform="scale(0.975)" clip-path="url(#fc)"><path d="M-7.5,8.6 Q-6.5,6.8 -3,6.6 L3,6.6 Q6.5,6.8 7.5,8.6 L8,10.2 Q0,12.4 -8,10.2 Z" fill="#f0f0f0"/><path d="M-3.4,4 L3.4,4 L3.6,8.6 Q0,9.8 -3.6,8.6 Z" fill="#c4937a"/><path d="M-5.3,-4 L5.3,-4 L5.2,2.5 Q4.6,6.6 0,7 Q-4.6,6.6 -5.2,2.5 Z" fill="#c4937a"/><circle cx="-2.2" cy="0.4" r="0.75" fill="#2e211b" opacity="0.75"/><circle cx="2.2" cy="0.4" r="0.75" fill="#2e211b" opacity="0.75"/><path d="M-4.9,2.2 Q-4.4,6.8 0,7 Q4.4,6.8 4.9,2.2 Q3.6,5.3 0,5.2 Q-3.6,5.3 -4.9,2.2 Z" fill="#2a1c16" opacity="0.7"/><path d="M-5.9,-3.2 Q-6.1,-10.2 0,-10.2 Q5.9,-10.2 5.7,-3.2 Q0,-4.2 -5.9,-3.2 Z" fill="#18181f"/></g><circle r="10.25" fill="none" stroke="#707070" stroke-width="1.5"/></g>
<g transform="translate(664.4,322.2)"><circle r="10.75" fill="#fff"/><g transform="scale(1.019)" clip-path="url(#fc)"><path d="M-7.5,8.6 Q-6.5,6.8 -3,6.6 L3,6.6 Q6.5,6.8 7.5,8.6 L8,10.2 Q0,12.4 -8,10.2 Z" fill="#34406a"/><path d="M-3.4,4 L3.4,4 L3.6,8.6 Q0,9.8 -3.6,8.6 Z" fill="#85604c"/><path d="M-5.3,-4 L5.3,-4 L5.2,2.5 Q4.6,6.6 0,7 Q-4.6,6.6 -5.2,2.5 Z" fill="#85604c"/><circle cx="-2.2" cy="0.4" r="0.75" fill="#2e211b" opacity="0.75"/><circle cx="2.2" cy="0.4" r="0.75" fill="#2e211b" opacity="0.75"/><path d="M-1.8,4 Q0,4.8 1.8,4" stroke="#6b3a2e" stroke-width="0.8" fill="none" opacity="0.7"/><path d="M-5.9,-3.2 Q-6.1,-10.2 0,-10.2 Q5.9,-10.2 5.7,-3.2 Q0,-4.2 -5.9,-3.2 Z" fill="#2450a8"/></g><circle r="10.75" fill="none" stroke="#707070" stroke-width="1.5"/></g>
<g transform="translate(652.3,333.5)"><circle r="10.25" fill="#fff"/><g transform="scale(0.975)" clip-path="url(#fc)"><path d="M-7.5,8.6 Q-6.5,6.8 -3,6.6 L3,6.6 Q6.5,6.8 7.5,8.6 L8,10.2 Q0,12.4 -8,10.2 Z" fill="#ffffff"/><path d="M-3.4,4 L3.4,4 L3.6,8.6 Q0,9.8 -3.6,8.6 Z" fill="#e4baa2"/><path d="M-5.3,-4 L5.3,-4 L5.2,2.5 Q4.6,6.6 0,7 Q-4.6,6.6 -5.2,2.5 Z" fill="#e4baa2"/><circle cx="-2.2" cy="0.4" r="0.75" fill="#2e211b" opacity="0.75"/><circle cx="2.2" cy="0.4" r="0.75" fill="#2e211b" opacity="0.75"/><path d="M-1.8,4 Q0,4.8 1.8,4" stroke="#6b3a2e" stroke-width="0.8" fill="none" opacity="0.7"/><path d="M-5.9,-3.2 Q-6.1,-10.2 0,-10.2 Q5.9,-10.2 5.7,-3.2 Q0,-4.2 -5.9,-3.2 Z" fill="#c42430"/></g><circle r="10.25" fill="none" stroke="#707070" stroke-width="1.5"/></g>
<g transform="translate(623.2,331.6)"><circle r="10.25" fill="#fff"/><g transform="scale(0.975)" clip-path="url(#fc)"><path d="M-7.5,8.6 Q-6.5,6.8 -3,6.6 L3,6.6 Q6.5,6.8 7.5,8.6 L8,10.2 Q0,12.4 -8,10.2 Z" fill="#ffffff"/><path d="M-3.4,4 L3.4,4 L3.6,8.6 Q0,9.8 -3.6,8.6 Z" fill="#dcb199"/><path d="M-5.3,-4 L5.3,-4 L5.2,2.5 Q4.6,6.6 0,7 Q-4.6,6.6 -5.2,2.5 Z" fill="#dcb199"/><circle cx="-2.2" cy="0.4" r="0.75" fill="#2e211b" opacity="0.75"/><circle cx="2.2" cy="0.4" r="0.75" fill="#2e211b" opacity="0.75"/><path d="M-1.8,4 Q0,4.8 1.8,4" stroke="#6b3a2e" stroke-width="0.8" fill="none" opacity="0.7"/><path d="M-5.9,-3.2 Q-6.1,-10.2 0,-10.2 Q5.9,-10.2 5.7,-3.2 Q0,-4.2 -5.9,-3.2 Z" fill="#c42430"/></g><circle r="10.25" fill="none" stroke="#707070" stroke-width="1.5"/></g>
<g transform="translate(691.0,329.5)"><circle r="10.25" fill="#fff"/><g transform="scale(0.975)" clip-path="url(#fc)"><path d="M-7.5,8.6 Q-6.5,6.8 -3,6.6 L3,6.6 Q6.5,6.8 7.5,8.6 L8,10.2 Q0,12.4 -8,10.2 Z" fill="#8a8d98"/><path d="M-3.4,4 L3.4,4 L3.6,8.6 Q0,9.8 -3.6,8.6 Z" fill="#dcb199"/><path d="M-5.3,-4 L5.3,-4 L5.2,2.5 Q4.6,6.6 0,7 Q-4.6,6.6 -5.2,2.5 Z" fill="#dcb199"/><circle cx="-2.2" cy="0.4" r="0.75" fill="#2e211b" opacity="0.75"/><circle cx="2.2" cy="0.4" r="0.75" fill="#2e211b" opacity="0.75"/><path d="M-1.8,4 Q0,4.8 1.8,4" stroke="#6b3a2e" stroke-width="0.8" fill="none" opacity="0.7"/><path d="M-5.9,-3.2 Q-6.1,-10.2 0,-10.2 Q5.9,-10.2 5.7,-3.2 Q0,-4.2 -5.9,-3.2 Z" fill="#18181f"/></g><circle r="10.25" fill="none" stroke="#707070" stroke-width="1.5"/></g>
<g transform="translate(709.0,341.5)"><circle r="10.25" fill="#fff"/><g transform="scale(0.975)" clip-path="url(#fc)"><path d="M-7.5,8.6 Q-6.5,6.8 -3,6.6 L3,6.6 Q6.5,6.8 7.5,8.6 L8,10.2 Q0,12.4 -8,10.2 Z" fill="#8a8d98"/><path d="M-3.4,4 L3.4,4 L3.6,8.6 Q0,9.8 -3.6,8.6 Z" fill="#85604c"/><path d="M-5.3,-4 L5.3,-4 L5.2,2.5 Q4.6,6.6 0,7 Q-4.6,6.6 -5.2,2.5 Z" fill="#85604c"/><circle cx="-2.2" cy="0.4" r="0.75" fill="#2e211b" opacity="0.75"/><circle cx="2.2" cy="0.4" r="0.75" fill="#2e211b" opacity="0.75"/><path d="M-4.9,2.2 Q-4.4,6.8 0,7 Q4.4,6.8 4.9,2.2 Q3.6,5.3 0,5.2 Q-3.6,5.3 -4.9,2.2 Z" fill="#2a1c16" opacity="0.7"/><path d="M-5.9,-3.2 Q-6.1,-10.2 0,-10.2 Q5.9,-10.2 5.7,-3.2 Q0,-4.2 -5.9,-3.2 Z" fill="#2450a8"/></g><circle r="10.25" fill="none" stroke="#707070" stroke-width="1.5"/></g>
<g transform="translate(768.0,337.0)"><circle r="10.75" fill="#fff"/><g transform="scale(1.019)" clip-path="url(#fc)"><path d="M-7.5,8.6 Q-6.5,6.8 -3,6.6 L3,6.6 Q6.5,6.8 7.5,8.6 L8,10.2 Q0,12.4 -8,10.2 Z" fill="#d5d8e0"/><path d="M-3.4,4 L3.4,4 L3.6,8.6 Q0,9.8 -3.6,8.6 Z" fill="#694838"/><path d="M-5.3,-4 L5.3,-4 L5.2,2.5 Q4.6,6.6 0,7 Q-4.6,6.6 -5.2,2.5 Z" fill="#694838"/><circle cx="-2.2" cy="0.4" r="0.75" fill="#2e211b" opacity="0.75"/><circle cx="2.2" cy="0.4" r="0.75" fill="#2e211b" opacity="0.75"/><path d="M-4.9,2.2 Q-4.4,6.8 0,7 Q4.4,6.8 4.9,2.2 Q3.6,5.3 0,5.2 Q-3.6,5.3 -4.9,2.2 Z" fill="#2a1c16" opacity="0.7"/><path d="M-5.9,-3.2 Q-6.1,-10.2 0,-10.2 Q5.9,-10.2 5.7,-3.2 Q0,-4.2 -5.9,-3.2 Z" fill="#18181f"/></g><circle r="10.75" fill="none" stroke="#707070" stroke-width="1.5"/></g>
<g transform="translate(592.6,321.0)"><circle r="10.25" fill="#fff"/><g transform="scale(0.975)" clip-path="url(#fc)"><path d="M-7.5,8.6 Q-6.5,6.8 -3,6.6 L3,6.6 Q6.5,6.8 7.5,8.6 L8,10.2 Q0,12.4 -8,10.2 Z" fill="#8a8d98"/><path d="M-3.4,4 L3.4,4 L3.6,8.6 Q0,9.8 -3.6,8.6 Z" fill="#e4baa2"/><path d="M-5.3,-4 L5.3,-4 L5.2,2.5 Q4.6,6.6 0,7 Q-4.6,6.6 -5.2,2.5 Z" fill="#e4baa2"/><circle cx="-2.2" cy="0.4" r="0.75" fill="#2e211b" opacity="0.75"/><circle cx="2.2" cy="0.4" r="0.75" fill="#2e211b" opacity="0.75"/><path d="M-4.9,2.2 Q-4.4,6.8 0,7 Q4.4,6.8 4.9,2.2 Q3.6,5.3 0,5.2 Q-3.6,5.3 -4.9,2.2 Z" fill="#2a1c16" opacity="0.7"/><path d="M-5.9,-3.2 Q-6.1,-10.2 0,-10.2 Q5.9,-10.2 5.7,-3.2 Q0,-4.2 -5.9,-3.2 Z" fill="#ececec"/><path d="M-6,-3.3 Q0,-4.4 5.8,-3.3 L5.8,-2.2 Q0,-3.3 -6,-2.2 Z" fill="#1a1a1a"/><circle cx="0" cy="-7" r="1.6" fill="#e06a20"/></g><circle r="10.25" fill="none" stroke="#707070" stroke-width="1.5"/></g>
<g transform="translate(599.3,334.0)"><circle r="10.25" fill="#fff"/><g transform="scale(0.975)" clip-path="url(#fc)"><path d="M-7.5,8.6 Q-6.5,6.8 -3,6.6 L3,6.6 Q6.5,6.8 7.5,8.6 L8,10.2 Q0,12.4 -8,10.2 Z" fill="#ffffff"/><path d="M-3.4,4 L3.4,4 L3.6,8.6 Q0,9.8 -3.6,8.6 Z" fill="#c99d84"/><path d="M-5.3,-4 L5.3,-4 L5.2,2.5 Q4.6,6.6 0,7 Q-4.6,6.6 -5.2,2.5 Z" fill="#c99d84"/><circle cx="-2.2" cy="0.4" r="0.75" fill="#2e211b" opacity="0.75"/><circle cx="2.2" cy="0.4" r="0.75" fill="#2e211b" opacity="0.75"/><path d="M-1.8,4 Q0,4.8 1.8,4" stroke="#6b3a2e" stroke-width="0.8" fill="none" opacity="0.7"/><path d="M-5.9,-3.2 Q-6.1,-10.2 0,-10.2 Q5.9,-10.2 5.7,-3.2 Q0,-4.2 -5.9,-3.2 Z" fill="#18181f"/></g><circle r="10.25" fill="none" stroke="#707070" stroke-width="1.5"/></g>
<g transform="translate(479.0,375.1)"><circle r="10.25" fill="#fff"/><g transform="scale(0.975)" clip-path="url(#fc)"><path d="M-7.5,8.6 Q-6.5,6.8 -3,6.6 L3,6.6 Q6.5,6.8 7.5,8.6 L8,10.2 Q0,12.4 -8,10.2 Z" fill="#34406a"/><path d="M-3.4,4 L3.4,4 L3.6,8.6 Q0,9.8 -3.6,8.6 Z" fill="#c4937a"/><path d="M-5.3,-4 L5.3,-4 L5.2,2.5 Q4.6,6.6 0,7 Q-4.6,6.6 -5.2,2.5 Z" fill="#c4937a"/><circle cx="-2.2" cy="0.4" r="0.75" fill="#2e211b" opacity="0.75"/><circle cx="2.2" cy="0.4" r="0.75" fill="#2e211b" opacity="0.75"/><path d="M-1.8,4 Q0,4.8 1.8,4" stroke="#6b3a2e" stroke-width="0.8" fill="none" opacity="0.7"/><path d="M-5.9,-3.2 Q-6.1,-10.2 0,-10.2 Q5.9,-10.2 5.7,-3.2 Q0,-4.2 -5.9,-3.2 Z" fill="#18181f"/></g><circle r="10.25" fill="none" stroke="#707070" stroke-width="1.5"/></g>
<g transform="translate(495.7,370.5)"><circle r="10.25" fill="#fff"/><g transform="scale(0.975)" clip-path="url(#fc)"><path d="M-7.5,8.6 Q-6.5,6.8 -3,6.6 L3,6.6 Q6.5,6.8 7.5,8.6 L8,10.2 Q0,12.4 -8,10.2 Z" fill="#f4f4f6"/><path d="M-3.4,4 L3.4,4 L3.6,8.6 Q0,9.8 -3.6,8.6 Z" fill="#bb8a70"/><path d="M-5.3,-4 L5.3,-4 L5.2,2.5 Q4.6,6.6 0,7 Q-4.6,6.6 -5.2,2.5 Z" fill="#bb8a70"/><circle cx="-2.2" cy="0.4" r="0.75" fill="#2e211b" opacity="0.75"/><circle cx="2.2" cy="0.4" r="0.75" fill="#2e211b" opacity="0.75"/><path d="M-4.9,2.2 Q-4.4,6.8 0,7 Q4.4,6.8 4.9,2.2 Q3.6,5.3 0,5.2 Q-3.6,5.3 -4.9,2.2 Z" fill="#2a1c16" opacity="0.7"/><path d="M-5.9,-3.2 Q-6.1,-10.2 0,-10.2 Q5.9,-10.2 5.7,-3.2 Q0,-4.2 -5.9,-3.2 Z" fill="#18181f"/></g><circle r="10.25" fill="none" stroke="#707070" stroke-width="1.5"/></g>
<g transform="translate(490.8,390.5)"><circle r="10.75" fill="#fff"/><g transform="scale(1.019)" clip-path="url(#fc)"><path d="M-7.5,8.6 Q-6.5,6.8 -3,6.6 L3,6.6 Q6.5,6.8 7.5,8.6 L8,10.2 Q0,12.4 -8,10.2 Z" fill="#f0f0f0"/><path d="M-3.4,4 L3.4,4 L3.6,8.6 Q0,9.8 -3.6,8.6 Z" fill="#c4937a"/><path d="M-5.3,-4 L5.3,-4 L5.2,2.5 Q4.6,6.6 0,7 Q-4.6,6.6 -5.2,2.5 Z" fill="#c4937a"/><circle cx="-2.2" cy="0.4" r="0.75" fill="#2e211b" opacity="0.75"/><circle cx="2.2" cy="0.4" r="0.75" fill="#2e211b" opacity="0.75"/><path d="M-1.8,4 Q0,4.8 1.8,4" stroke="#6b3a2e" stroke-width="0.8" fill="none" opacity="0.7"/><path d="M-5.9,-3.2 Q-6.1,-10.2 0,-10.2 Q5.9,-10.2 5.7,-3.2 Q0,-4.2 -5.9,-3.2 Z" fill="#1d2a52"/></g><circle r="10.75" fill="none" stroke="#707070" stroke-width="1.5"/></g>
<g transform="translate(511.5,373.5)"><circle r="10.25" fill="#fff"/><g transform="scale(0.975)" clip-path="url(#fc)"><path d="M-7.5,8.6 Q-6.5,6.8 -3,6.6 L3,6.6 Q6.5,6.8 7.5,8.6 L8,10.2 Q0,12.4 -8,10.2 Z" fill="#f4f4f6"/><path d="M-3.4,4 L3.4,4 L3.6,8.6 Q0,9.8 -3.6,8.6 Z" fill="#e6bea6"/><path d="M-5.3,-4 L5.3,-4 L5.2,2.5 Q4.6,6.6 0,7 Q-4.6,6.6 -5.2,2.5 Z" fill="#e6bea6"/><circle cx="-2.2" cy="0.4" r="0.75" fill="#2e211b" opacity="0.75"/><circle cx="2.2" cy="0.4" r="0.75" fill="#2e211b" opacity="0.75"/><path d="M-1.8,4 Q0,4.8 1.8,4" stroke="#6b3a2e" stroke-width="0.8" fill="none" opacity="0.7"/><path d="M-5.9,-3.2 Q-6.1,-10.2 0,-10.2 Q5.9,-10.2 5.7,-3.2 Q0,-4.2 -5.9,-3.2 Z" fill="#1d2a52"/></g><circle r="10.25" fill="none" stroke="#707070" stroke-width="1.5"/></g>
<g transform="translate(522.2,360.8)"><circle r="10.25" fill="#fff"/><g transform="scale(0.975)" clip-path="url(#fc)"><path d="M-7.5,8.6 Q-6.5,6.8 -3,6.6 L3,6.6 Q6.5,6.8 7.5,8.6 L8,10.2 Q0,12.4 -8,10.2 Z" fill="#f0f0f0"/><path d="M-3.4,4 L3.4,4 L3.6,8.6 Q0,9.8 -3.6,8.6 Z" fill="#e6bea6"/><path d="M-5.3,-4 L5.3,-4 L5.2,2.5 Q4.6,6.6 0,7 Q-4.6,6.6 -5.2,2.5 Z" fill="#e6bea6"/><circle cx="-2.2" cy="0.4" r="0.75" fill="#2e211b" opacity="0.75"/><circle cx="2.2" cy="0.4" r="0.75" fill="#2e211b" opacity="0.75"/><path d="M-1.8,4 Q0,4.8 1.8,4" stroke="#6b3a2e" stroke-width="0.8" fill="none" opacity="0.7"/><path d="M-5.9,-3.2 Q-6.1,-10.2 0,-10.2 Q5.9,-10.2 5.7,-3.2 Q0,-4.2 -5.9,-3.2 Z" fill="#2450a8"/></g><circle r="10.25" fill="none" stroke="#707070" stroke-width="1.5"/></g>
<g transform="translate(540.0,363.5)"><circle r="10.75" fill="#fff"/><g transform="scale(1.019)" clip-path="url(#fc)"><path d="M-7.5,8.6 Q-6.5,6.8 -3,6.6 L3,6.6 Q6.5,6.8 7.5,8.6 L8,10.2 Q0,12.4 -8,10.2 Z" fill="#b84040"/><path d="M-3.4,4 L3.4,4 L3.6,8.6 Q0,9.8 -3.6,8.6 Z" fill="#bb8a70"/><path d="M-5.3,-4 L5.3,-4 L5.2,2.5 Q4.6,6.6 0,7 Q-4.6,6.6 -5.2,2.5 Z" fill="#bb8a70"/><circle cx="-2.2" cy="0.4" r="0.75" fill="#2e211b" opacity="0.75"/><circle cx="2.2" cy="0.4" r="0.75" fill="#2e211b" opacity="0.75"/><path d="M-4.9,2.2 Q-4.4,6.8 0,7 Q4.4,6.8 4.9,2.2 Q3.6,5.3 0,5.2 Q-3.6,5.3 -4.9,2.2 Z" fill="#2a1c16" opacity="0.7"/><path d="M-5.9,-3.2 Q-6.1,-10.2 0,-10.2 Q5.9,-10.2 5.7,-3.2 Q0,-4.2 -5.9,-3.2 Z" fill="#18181f"/></g><circle r="10.75" fill="none" stroke="#707070" stroke-width="1.5"/></g>
<g transform="translate(539.2,380.3)"><circle r="10.25" fill="#fff"/><g transform="scale(0.975)" clip-path="url(#fc)"><path d="M-7.5,8.6 Q-6.5,6.8 -3,6.6 L3,6.6 Q6.5,6.8 7.5,8.6 L8,10.2 Q0,12.4 -8,10.2 Z" fill="#e8e8ee"/><path d="M-3.4,4 L3.4,4 L3.6,8.6 Q0,9.8 -3.6,8.6 Z" fill="#e6bea6"/><path d="M-5.3,-4 L5.3,-4 L5.2,2.5 Q4.6,6.6 0,7 Q-4.6,6.6 -5.2,2.5 Z" fill="#e6bea6"/><circle cx="-2.2" cy="0.4" r="0.75" fill="#2e211b" opacity="0.75"/><circle cx="2.2" cy="0.4" r="0.75" fill="#2e211b" opacity="0.75"/><path d="M-1.8,4 Q0,4.8 1.8,4" stroke="#6b3a2e" stroke-width="0.8" fill="none" opacity="0.7"/><path d="M-5.9,-3.2 Q-6.1,-10.2 0,-10.2 Q5.9,-10.2 5.7,-3.2 Q0,-4.2 -5.9,-3.2 Z" fill="#c42430"/></g><circle r="10.25" fill="none" stroke="#707070" stroke-width="1.5"/></g>
<g transform="translate(521.2,388.0)"><circle r="10.25" fill="#fff"/><g transform="scale(0.975)" clip-path="url(#fc)"><path d="M-7.5,8.6 Q-6.5,6.8 -3,6.6 L3,6.6 Q6.5,6.8 7.5,8.6 L8,10.2 Q0,12.4 -8,10.2 Z" fill="#f0f0f0"/><path d="M-3.4,4 L3.4,4 L3.6,8.6 Q0,9.8 -3.6,8.6 Z" fill="#c99d84"/><path d="M-5.3,-4 L5.3,-4 L5.2,2.5 Q4.6,6.6 0,7 Q-4.6,6.6 -5.2,2.5 Z" fill="#c99d84"/><circle cx="-2.2" cy="0.4" r="0.75" fill="#2e211b" opacity="0.75"/><circle cx="2.2" cy="0.4" r="0.75" fill="#2e211b" opacity="0.75"/><path d="M-1.8,4 Q0,4.8 1.8,4" stroke="#6b3a2e" stroke-width="0.8" fill="none" opacity="0.7"/><path d="M-5.9,-3.2 Q-6.1,-10.2 0,-10.2 Q5.9,-10.2 5.7,-3.2 Q0,-4.2 -5.9,-3.2 Z" fill="#18181f"/></g><circle r="10.25" fill="none" stroke="#707070" stroke-width="1.5"/></g>
<g transform="translate(534.9,397.0)"><circle r="10.25" fill="#fff"/><g transform="scale(0.975)" clip-path="url(#fc)"><path d="M-7.5,8.6 Q-6.5,6.8 -3,6.6 L3,6.6 Q6.5,6.8 7.5,8.6 L8,10.2 Q0,12.4 -8,10.2 Z" fill="#8a8d98"/><path d="M-3.4,4 L3.4,4 L3.6,8.6 Q0,9.8 -3.6,8.6 Z" fill="#dcb199"/><path d="M-5.3,-4 L5.3,-4 L5.2,2.5 Q4.6,6.6 0,7 Q-4.6,6.6 -5.2,2.5 Z" fill="#dcb199"/><circle cx="-2.2" cy="0.4" r="0.75" fill="#2e211b" opacity="0.75"/><circle cx="2.2" cy="0.4" r="0.75" fill="#2e211b" opacity="0.75"/><path d="M-1.8,4 Q0,4.8 1.8,4" stroke="#6b3a2e" stroke-width="0.8" fill="none" opacity="0.7"/><path d="M-5.9,-3.2 Q-6.1,-10.2 0,-10.2 Q5.9,-10.2 5.7,-3.2 Q0,-4.2 -5.9,-3.2 Z" fill="#18181f"/></g><circle r="10.25" fill="none" stroke="#707070" stroke-width="1.5"/></g>
<g transform="translate(560.7,371.8)"><circle r="10.25" fill="#fff"/><g transform="scale(0.975)" clip-path="url(#fc)"><path d="M-7.5,8.6 Q-6.5,6.8 -3,6.6 L3,6.6 Q6.5,6.8 7.5,8.6 L8,10.2 Q0,12.4 -8,10.2 Z" fill="#e8e8ee"/><path d="M-3.4,4 L3.4,4 L3.6,8.6 Q0,9.8 -3.6,8.6 Z" fill="#e6bea6"/><path d="M-5.3,-4 L5.3,-4 L5.2,2.5 Q4.6,6.6 0,7 Q-4.6,6.6 -5.2,2.5 Z" fill="#e6bea6"/><circle cx="-2.2" cy="0.4" r="0.75" fill="#2e211b" opacity="0.75"/><circle cx="2.2" cy="0.4" r="0.75" fill="#2e211b" opacity="0.75"/><path d="M-1.8,4 Q0,4.8 1.8,4" stroke="#6b3a2e" stroke-width="0.8" fill="none" opacity="0.7"/><path d="M-5.9,-3.2 Q-6.1,-10.2 0,-10.2 Q5.9,-10.2 5.7,-3.2 Q0,-4.2 -5.9,-3.2 Z" fill="#18181f"/></g><circle r="10.25" fill="none" stroke="#707070" stroke-width="1.5"/></g>
<g transform="translate(578.1,378.5)"><circle r="10.25" fill="#fff"/><g transform="scale(0.975)" clip-path="url(#fc)"><path d="M-7.5,8.6 Q-6.5,6.8 -3,6.6 L3,6.6 Q6.5,6.8 7.5,8.6 L8,10.2 Q0,12.4 -8,10.2 Z" fill="#ffffff"/><path d="M-3.4,4 L3.4,4 L3.6,8.6 Q0,9.8 -3.6,8.6 Z" fill="#e0b79e"/><path d="M-5.3,-4 L5.3,-4 L5.2,2.5 Q4.6,6.6 0,7 Q-4.6,6.6 -5.2,2.5 Z" fill="#e0b79e"/><circle cx="-2.2" cy="0.4" r="0.75" fill="#2e211b" opacity="0.75"/><circle cx="2.2" cy="0.4" r="0.75" fill="#2e211b" opacity="0.75"/><path d="M-4.9,2.2 Q-4.4,6.8 0,7 Q4.4,6.8 4.9,2.2 Q3.6,5.3 0,5.2 Q-3.6,5.3 -4.9,2.2 Z" fill="#2a1c16" opacity="0.7"/><path d="M-5.9,-3.2 Q-6.1,-10.2 0,-10.2 Q5.9,-10.2 5.7,-3.2 Q0,-4.2 -5.9,-3.2 Z" fill="#2450a8"/></g><circle r="10.25" fill="none" stroke="#707070" stroke-width="1.5"/></g>
<g transform="translate(597.3,378.9)"><circle r="10.25" fill="#fff"/><g transform="scale(0.975)" clip-path="url(#fc)"><path d="M-7.5,8.6 Q-6.5,6.8 -3,6.6 L3,6.6 Q6.5,6.8 7.5,8.6 L8,10.2 Q0,12.4 -8,10.2 Z" fill="#8a8d98"/><path d="M-3.4,4 L3.4,4 L3.6,8.6 Q0,9.8 -3.6,8.6 Z" fill="#e0b79e"/><path d="M-5.3,-4 L5.3,-4 L5.2,2.5 Q4.6,6.6 0,7 Q-4.6,6.6 -5.2,2.5 Z" fill="#e0b79e"/><circle cx="-2.2" cy="0.4" r="0.75" fill="#2e211b" opacity="0.75"/><circle cx="2.2" cy="0.4" r="0.75" fill="#2e211b" opacity="0.75"/><path d="M-1.8,4 Q0,4.8 1.8,4" stroke="#6b3a2e" stroke-width="0.8" fill="none" opacity="0.7"/><path d="M-5.9,-3.2 Q-6.1,-10.2 0,-10.2 Q5.9,-10.2 5.7,-3.2 Q0,-4.2 -5.9,-3.2 Z" fill="#c42430"/></g><circle r="10.25" fill="none" stroke="#707070" stroke-width="1.5"/></g>
<g transform="translate(617.0,379.3)"><circle r="10.25" fill="#fff"/><g transform="scale(0.975)" clip-path="url(#fc)"><path d="M-7.5,8.6 Q-6.5,6.8 -3,6.6 L3,6.6 Q6.5,6.8 7.5,8.6 L8,10.2 Q0,12.4 -8,10.2 Z" fill="#f0f0f0"/><path d="M-3.4,4 L3.4,4 L3.6,8.6 Q0,9.8 -3.6,8.6 Z" fill="#c4937a"/><path d="M-5.3,-4 L5.3,-4 L5.2,2.5 Q4.6,6.6 0,7 Q-4.6,6.6 -5.2,2.5 Z" fill="#c4937a"/><circle cx="-2.2" cy="0.4" r="0.75" fill="#2e211b" opacity="0.75"/><circle cx="2.2" cy="0.4" r="0.75" fill="#2e211b" opacity="0.75"/><path d="M-4.9,2.2 Q-4.4,6.8 0,7 Q4.4,6.8 4.9,2.2 Q3.6,5.3 0,5.2 Q-3.6,5.3 -4.9,2.2 Z" fill="#2a1c16" opacity="0.7"/><path d="M-5.9,-3.2 Q-6.1,-10.2 0,-10.2 Q5.9,-10.2 5.7,-3.2 Q0,-4.2 -5.9,-3.2 Z" fill="#18181f"/></g><circle r="10.25" fill="none" stroke="#707070" stroke-width="1.5"/></g>
<g transform="translate(605.0,394.2)"><circle r="10.25" fill="#fff"/><g transform="scale(0.975)" clip-path="url(#fc)"><path d="M-7.5,8.6 Q-6.5,6.8 -3,6.6 L3,6.6 Q6.5,6.8 7.5,8.6 L8,10.2 Q0,12.4 -8,10.2 Z" fill="#e8e8ee"/><path d="M-3.4,4 L3.4,4 L3.6,8.6 Q0,9.8 -3.6,8.6 Z" fill="#c99d84"/><path d="M-5.3,-4 L5.3,-4 L5.2,2.5 Q4.6,6.6 0,7 Q-4.6,6.6 -5.2,2.5 Z" fill="#c99d84"/><circle cx="-2.2" cy="0.4" r="0.75" fill="#2e211b" opacity="0.75"/><circle cx="2.2" cy="0.4" r="0.75" fill="#2e211b" opacity="0.75"/><path d="M-1.8,4 Q0,4.8 1.8,4" stroke="#6b3a2e" stroke-width="0.8" fill="none" opacity="0.7"/><path d="M-5.9,-3.2 Q-6.1,-10.2 0,-10.2 Q5.9,-10.2 5.7,-3.2 Q0,-4.2 -5.9,-3.2 Z" fill="#18181f"/></g><circle r="10.25" fill="none" stroke="#707070" stroke-width="1.5"/></g>
<g transform="translate(632.2,389.9)"><circle r="10.25" fill="#fff"/><g transform="scale(0.975)" clip-path="url(#fc)"><path d="M-7.5,8.6 Q-6.5,6.8 -3,6.6 L3,6.6 Q6.5,6.8 7.5,8.6 L8,10.2 Q0,12.4 -8,10.2 Z" fill="#ffffff"/><path d="M-3.4,4 L3.4,4 L3.6,8.6 Q0,9.8 -3.6,8.6 Z" fill="#e6bea6"/><path d="M-5.3,-4 L5.3,-4 L5.2,2.5 Q4.6,6.6 0,7 Q-4.6,6.6 -5.2,2.5 Z" fill="#e6bea6"/><circle cx="-2.2" cy="0.4" r="0.75" fill="#2e211b" opacity="0.75"/><circle cx="2.2" cy="0.4" r="0.75" fill="#2e211b" opacity="0.75"/><path d="M-1.8,4 Q0,4.8 1.8,4" stroke="#6b3a2e" stroke-width="0.8" fill="none" opacity="0.7"/><path d="M-5.9,-3.2 Q-6.1,-10.2 0,-10.2 Q5.9,-10.2 5.7,-3.2 Q0,-4.2 -5.9,-3.2 Z" fill="#c42430"/></g><circle r="10.25" fill="none" stroke="#707070" stroke-width="1.5"/></g>
<g transform="translate(563.2,411.4)"><circle r="10.00" fill="#fff"/><g transform="scale(0.953)" clip-path="url(#fc)"><path d="M-7.5,8.6 Q-6.5,6.8 -3,6.6 L3,6.6 Q6.5,6.8 7.5,8.6 L8,10.2 Q0,12.4 -8,10.2 Z" fill="#f0f0f0"/><path d="M-3.4,4 L3.4,4 L3.6,8.6 Q0,9.8 -3.6,8.6 Z" fill="#e0b79e"/><path d="M-5.3,-4 L5.3,-4 L5.2,2.5 Q4.6,6.6 0,7 Q-4.6,6.6 -5.2,2.5 Z" fill="#e0b79e"/><circle cx="-2.2" cy="0.4" r="0.75" fill="#2e211b" opacity="0.75"/><circle cx="2.2" cy="0.4" r="0.75" fill="#2e211b" opacity="0.75"/><path d="M-1.8,4 Q0,4.8 1.8,4" stroke="#6b3a2e" stroke-width="0.8" fill="none" opacity="0.7"/><path d="M-5.9,-3.2 Q-6.1,-10.2 0,-10.2 Q5.9,-10.2 5.7,-3.2 Q0,-4.2 -5.9,-3.2 Z" fill="#2450a8"/></g><circle r="10.00" fill="none" stroke="#707070" stroke-width="1.5"/></g>
<g transform="translate(581.0,418.5)"><circle r="10.25" fill="#fff"/><g transform="scale(0.975)" clip-path="url(#fc)"><path d="M-7.5,8.6 Q-6.5,6.8 -3,6.6 L3,6.6 Q6.5,6.8 7.5,8.6 L8,10.2 Q0,12.4 -8,10.2 Z" fill="#34406a"/><path d="M-3.4,4 L3.4,4 L3.6,8.6 Q0,9.8 -3.6,8.6 Z" fill="#c4937a"/><path d="M-5.3,-4 L5.3,-4 L5.2,2.5 Q4.6,6.6 0,7 Q-4.6,6.6 -5.2,2.5 Z" fill="#c4937a"/><circle cx="-2.2" cy="0.4" r="0.75" fill="#2e211b" opacity="0.75"/><circle cx="2.2" cy="0.4" r="0.75" fill="#2e211b" opacity="0.75"/><path d="M-1.8,4 Q0,4.8 1.8,4" stroke="#6b3a2e" stroke-width="0.8" fill="none" opacity="0.7"/><path d="M-5.9,-3.2 Q-6.1,-10.2 0,-10.2 Q5.9,-10.2 5.7,-3.2 Q0,-4.2 -5.9,-3.2 Z" fill="#18181f"/></g><circle r="10.25" fill="none" stroke="#707070" stroke-width="1.5"/></g>
<g transform="translate(594.0,408.5)"><circle r="10.25" fill="#fff"/><g transform="scale(0.975)" clip-path="url(#fc)"><path d="M-7.5,8.6 Q-6.5,6.8 -3,6.6 L3,6.6 Q6.5,6.8 7.5,8.6 L8,10.2 Q0,12.4 -8,10.2 Z" fill="#ffffff"/><path d="M-3.4,4 L3.4,4 L3.6,8.6 Q0,9.8 -3.6,8.6 Z" fill="#e4baa2"/><path d="M-5.3,-4 L5.3,-4 L5.2,2.5 Q4.6,6.6 0,7 Q-4.6,6.6 -5.2,2.5 Z" fill="#e4baa2"/><circle cx="-2.2" cy="0.4" r="0.75" fill="#2e211b" opacity="0.75"/><circle cx="2.2" cy="0.4" r="0.75" fill="#2e211b" opacity="0.75"/><path d="M-1.8,4 Q0,4.8 1.8,4" stroke="#6b3a2e" stroke-width="0.8" fill="none" opacity="0.7"/><path d="M-5.9,-3.2 Q-6.1,-10.2 0,-10.2 Q5.9,-10.2 5.7,-3.2 Q0,-4.2 -5.9,-3.2 Z" fill="#1d2a52"/></g><circle r="10.25" fill="none" stroke="#707070" stroke-width="1.5"/></g>
<g transform="translate(610.0,414.5)"><circle r="10.25" fill="#fff"/><g transform="scale(0.975)" clip-path="url(#fc)"><path d="M-7.5,8.6 Q-6.5,6.8 -3,6.6 L3,6.6 Q6.5,6.8 7.5,8.6 L8,10.2 Q0,12.4 -8,10.2 Z" fill="#8a8d98"/><path d="M-3.4,4 L3.4,4 L3.6,8.6 Q0,9.8 -3.6,8.6 Z" fill="#dcb199"/><path d="M-5.3,-4 L5.3,-4 L5.2,2.5 Q4.6,6.6 0,7 Q-4.6,6.6 -5.2,2.5 Z" fill="#dcb199"/><circle cx="-2.2" cy="0.4" r="0.75" fill="#2e211b" opacity="0.75"/><circle cx="2.2" cy="0.4" r="0.75" fill="#2e211b" opacity="0.75"/><path d="M-1.8,4 Q0,4.8 1.8,4" stroke="#6b3a2e" stroke-width="0.8" fill="none" opacity="0.7"/><path d="M-5.9,-3.2 Q-6.1,-10.2 0,-10.2 Q5.9,-10.2 5.7,-3.2 Q0,-4.2 -5.9,-3.2 Z" fill="#2450a8"/></g><circle r="10.25" fill="none" stroke="#707070" stroke-width="1.5"/></g>
<g transform="translate(626.0,405.5)"><circle r="10.25" fill="#fff"/><g transform="scale(0.975)" clip-path="url(#fc)"><path d="M-7.5,8.6 Q-6.5,6.8 -3,6.6 L3,6.6 Q6.5,6.8 7.5,8.6 L8,10.2 Q0,12.4 -8,10.2 Z" fill="#34406a"/><path d="M-3.4,4 L3.4,4 L3.6,8.6 Q0,9.8 -3.6,8.6 Z" fill="#e6bea6"/><path d="M-5.3,-4 L5.3,-4 L5.2,2.5 Q4.6,6.6 0,7 Q-4.6,6.6 -5.2,2.5 Z" fill="#e6bea6"/><circle cx="-2.2" cy="0.4" r="0.75" fill="#2e211b" opacity="0.75"/><circle cx="2.2" cy="0.4" r="0.75" fill="#2e211b" opacity="0.75"/><path d="M-1.8,4 Q0,4.8 1.8,4" stroke="#6b3a2e" stroke-width="0.8" fill="none" opacity="0.7"/><path d="M-5.9,-3.2 Q-6.1,-10.2 0,-10.2 Q5.9,-10.2 5.7,-3.2 Q0,-4.2 -5.9,-3.2 Z" fill="#18181f"/></g><circle r="10.25" fill="none" stroke="#707070" stroke-width="1.5"/></g>
<g transform="translate(629.5,425.0)"><circle r="10.25" fill="#fff"/><g transform="scale(0.975)" clip-path="url(#fc)"><path d="M-7.5,8.6 Q-6.5,6.8 -3,6.6 L3,6.6 Q6.5,6.8 7.5,8.6 L8,10.2 Q0,12.4 -8,10.2 Z" fill="#ffffff"/><path d="M-3.4,4 L3.4,4 L3.6,8.6 Q0,9.8 -3.6,8.6 Z" fill="#c99d84"/><path d="M-5.3,-4 L5.3,-4 L5.2,2.5 Q4.6,6.6 0,7 Q-4.6,6.6 -5.2,2.5 Z" fill="#c99d84"/><circle cx="-2.2" cy="0.4" r="0.75" fill="#2e211b" opacity="0.75"/><circle cx="2.2" cy="0.4" r="0.75" fill="#2e211b" opacity="0.75"/><path d="M-1.8,4 Q0,4.8 1.8,4" stroke="#6b3a2e" stroke-width="0.8" fill="none" opacity="0.7"/><path d="M-5.9,-3.2 Q-6.1,-10.2 0,-10.2 Q5.9,-10.2 5.7,-3.2 Q0,-4.2 -5.9,-3.2 Z" fill="#2450a8"/></g><circle r="10.25" fill="none" stroke="#707070" stroke-width="1.5"/></g>
<g transform="translate(650.7,389.9)"><circle r="10.25" fill="#fff"/><g transform="scale(0.975)" clip-path="url(#fc)"><path d="M-7.5,8.6 Q-6.5,6.8 -3,6.6 L3,6.6 Q6.5,6.8 7.5,8.6 L8,10.2 Q0,12.4 -8,10.2 Z" fill="#8a8d98"/><path d="M-3.4,4 L3.4,4 L3.6,8.6 Q0,9.8 -3.6,8.6 Z" fill="#e4baa2"/><path d="M-5.3,-4 L5.3,-4 L5.2,2.5 Q4.6,6.6 0,7 Q-4.6,6.6 -5.2,2.5 Z" fill="#e4baa2"/><circle cx="-2.2" cy="0.4" r="0.75" fill="#2e211b" opacity="0.75"/><circle cx="2.2" cy="0.4" r="0.75" fill="#2e211b" opacity="0.75"/><path d="M-1.8,4 Q0,4.8 1.8,4" stroke="#6b3a2e" stroke-width="0.8" fill="none" opacity="0.7"/><path d="M-5.9,-3.2 Q-6.1,-10.2 0,-10.2 Q5.9,-10.2 5.7,-3.2 Q0,-4.2 -5.9,-3.2 Z" fill="#18181f"/></g><circle r="10.25" fill="none" stroke="#707070" stroke-width="1.5"/></g>
<g transform="translate(673.2,387.1)"><circle r="10.25" fill="#fff"/><g transform="scale(0.975)" clip-path="url(#fc)"><path d="M-7.5,8.6 Q-6.5,6.8 -3,6.6 L3,6.6 Q6.5,6.8 7.5,8.6 L8,10.2 Q0,12.4 -8,10.2 Z" fill="#f0f0f0"/><path d="M-3.4,4 L3.4,4 L3.6,8.6 Q0,9.8 -3.6,8.6 Z" fill="#bb8a70"/><path d="M-5.3,-4 L5.3,-4 L5.2,2.5 Q4.6,6.6 0,7 Q-4.6,6.6 -5.2,2.5 Z" fill="#bb8a70"/><circle cx="-2.2" cy="0.4" r="0.75" fill="#2e211b" opacity="0.75"/><circle cx="2.2" cy="0.4" r="0.75" fill="#2e211b" opacity="0.75"/><path d="M-1.8,4 Q0,4.8 1.8,4" stroke="#6b3a2e" stroke-width="0.8" fill="none" opacity="0.7"/><path d="M-5.9,-3.2 Q-6.1,-10.2 0,-10.2 Q5.9,-10.2 5.7,-3.2 Q0,-4.2 -5.9,-3.2 Z" fill="#18181f"/></g><circle r="10.25" fill="none" stroke="#707070" stroke-width="1.5"/></g>
<g transform="translate(692.5,390.0)"><circle r="10.25" fill="#fff"/><g transform="scale(0.975)" clip-path="url(#fc)"><path d="M-7.5,8.6 Q-6.5,6.8 -3,6.6 L3,6.6 Q6.5,6.8 7.5,8.6 L8,10.2 Q0,12.4 -8,10.2 Z" fill="#34406a"/><path d="M-3.4,4 L3.4,4 L3.6,8.6 Q0,9.8 -3.6,8.6 Z" fill="#e6bea6"/><path d="M-5.3,-4 L5.3,-4 L5.2,2.5 Q4.6,6.6 0,7 Q-4.6,6.6 -5.2,2.5 Z" fill="#e6bea6"/><circle cx="-2.2" cy="0.4" r="0.75" fill="#2e211b" opacity="0.75"/><circle cx="2.2" cy="0.4" r="0.75" fill="#2e211b" opacity="0.75"/><path d="M-1.8,4 Q0,4.8 1.8,4" stroke="#6b3a2e" stroke-width="0.8" fill="none" opacity="0.7"/><path d="M-5.9,-3.2 Q-6.1,-10.2 0,-10.2 Q5.9,-10.2 5.7,-3.2 Q0,-4.2 -5.9,-3.2 Z" fill="#1d2a52"/></g><circle r="10.25" fill="none" stroke="#707070" stroke-width="1.5"/></g>
<g transform="translate(681.0,370.0)"><circle r="10.25" fill="#fff"/><g transform="scale(0.975)" clip-path="url(#fc)"><path d="M-7.5,8.6 Q-6.5,6.8 -3,6.6 L3,6.6 Q6.5,6.8 7.5,8.6 L8,10.2 Q0,12.4 -8,10.2 Z" fill="#d5d8e0"/><path d="M-3.4,4 L3.4,4 L3.6,8.6 Q0,9.8 -3.6,8.6 Z" fill="#c4937a"/><path d="M-5.3,-4 L5.3,-4 L5.2,2.5 Q4.6,6.6 0,7 Q-4.6,6.6 -5.2,2.5 Z" fill="#c4937a"/><circle cx="-2.2" cy="0.4" r="0.75" fill="#2e211b" opacity="0.75"/><circle cx="2.2" cy="0.4" r="0.75" fill="#2e211b" opacity="0.75"/><path d="M-4.9,2.2 Q-4.4,6.8 0,7 Q4.4,6.8 4.9,2.2 Q3.6,5.3 0,5.2 Q-3.6,5.3 -4.9,2.2 Z" fill="#2a1c16" opacity="0.7"/><path d="M-5.9,-3.2 Q-6.1,-10.2 0,-10.2 Q5.9,-10.2 5.7,-3.2 Q0,-4.2 -5.9,-3.2 Z" fill="#1d2a52"/></g><circle r="10.25" fill="none" stroke="#707070" stroke-width="1.5"/></g>
<g transform="translate(699.0,373.0)"><circle r="10.25" fill="#fff"/><g transform="scale(0.975)" clip-path="url(#fc)"><path d="M-7.5,8.6 Q-6.5,6.8 -3,6.6 L3,6.6 Q6.5,6.8 7.5,8.6 L8,10.2 Q0,12.4 -8,10.2 Z" fill="#e8e8ee"/><path d="M-3.4,4 L3.4,4 L3.6,8.6 Q0,9.8 -3.6,8.6 Z" fill="#e6bea6"/><path d="M-5.3,-4 L5.3,-4 L5.2,2.5 Q4.6,6.6 0,7 Q-4.6,6.6 -5.2,2.5 Z" fill="#e6bea6"/><circle cx="-2.2" cy="0.4" r="0.75" fill="#2e211b" opacity="0.75"/><circle cx="2.2" cy="0.4" r="0.75" fill="#2e211b" opacity="0.75"/><path d="M-4.9,2.2 Q-4.4,6.8 0,7 Q4.4,6.8 4.9,2.2 Q3.6,5.3 0,5.2 Q-3.6,5.3 -4.9,2.2 Z" fill="#2a1c16" opacity="0.7"/><path d="M-5.9,-3.2 Q-6.1,-10.2 0,-10.2 Q5.9,-10.2 5.7,-3.2 Q0,-4.2 -5.9,-3.2 Z" fill="#2450a8"/></g><circle r="10.25" fill="none" stroke="#707070" stroke-width="1.5"/></g>
<g transform="translate(709.0,360.0)"><circle r="10.25" fill="#fff"/><g transform="scale(0.975)" clip-path="url(#fc)"><path d="M-7.5,8.6 Q-6.5,6.8 -3,6.6 L3,6.6 Q6.5,6.8 7.5,8.6 L8,10.2 Q0,12.4 -8,10.2 Z" fill="#f4f4f6"/><path d="M-3.4,4 L3.4,4 L3.6,8.6 Q0,9.8 -3.6,8.6 Z" fill="#e0b79e"/><path d="M-5.3,-4 L5.3,-4 L5.2,2.5 Q4.6,6.6 0,7 Q-4.6,6.6 -5.2,2.5 Z" fill="#e0b79e"/><circle cx="-2.2" cy="0.4" r="0.75" fill="#2e211b" opacity="0.75"/><circle cx="2.2" cy="0.4" r="0.75" fill="#2e211b" opacity="0.75"/><path d="M-1.8,4 Q0,4.8 1.8,4" stroke="#6b3a2e" stroke-width="0.8" fill="none" opacity="0.7"/><path d="M-5.9,-3.2 Q-6.1,-10.2 0,-10.2 Q5.9,-10.2 5.7,-3.2 Q0,-4.2 -5.9,-3.2 Z" fill="#c42430"/></g><circle r="10.25" fill="none" stroke="#707070" stroke-width="1.5"/></g>
<g transform="translate(726.0,362.0)"><circle r="10.25" fill="#fff"/><g transform="scale(0.975)" clip-path="url(#fc)"><path d="M-7.5,8.6 Q-6.5,6.8 -3,6.6 L3,6.6 Q6.5,6.8 7.5,8.6 L8,10.2 Q0,12.4 -8,10.2 Z" fill="#e8e8ee"/><path d="M-3.4,4 L3.4,4 L3.6,8.6 Q0,9.8 -3.6,8.6 Z" fill="#775342"/><path d="M-5.3,-4 L5.3,-4 L5.2,2.5 Q4.6,6.6 0,7 Q-4.6,6.6 -5.2,2.5 Z" fill="#775342"/><circle cx="-2.2" cy="0.4" r="0.75" fill="#2e211b" opacity="0.75"/><circle cx="2.2" cy="0.4" r="0.75" fill="#2e211b" opacity="0.75"/><path d="M-4.9,2.2 Q-4.4,6.8 0,7 Q4.4,6.8 4.9,2.2 Q3.6,5.3 0,5.2 Q-3.6,5.3 -4.9,2.2 Z" fill="#2a1c16" opacity="0.7"/><path d="M-5.9,-3.2 Q-6.1,-10.2 0,-10.2 Q5.9,-10.2 5.7,-3.2 Q0,-4.2 -5.9,-3.2 Z" fill="#18181f"/></g><circle r="10.25" fill="none" stroke="#707070" stroke-width="1.5"/></g>
<g transform="translate(739.0,351.0)"><circle r="10.25" fill="#fff"/><g transform="scale(0.975)" clip-path="url(#fc)"><path d="M-7.5,8.6 Q-6.5,6.8 -3,6.6 L3,6.6 Q6.5,6.8 7.5,8.6 L8,10.2 Q0,12.4 -8,10.2 Z" fill="#d5d8e0"/><path d="M-3.4,4 L3.4,4 L3.6,8.6 Q0,9.8 -3.6,8.6 Z" fill="#e4baa2"/><path d="M-5.3,-4 L5.3,-4 L5.2,2.5 Q4.6,6.6 0,7 Q-4.6,6.6 -5.2,2.5 Z" fill="#e4baa2"/><circle cx="-2.2" cy="0.4" r="0.75" fill="#2e211b" opacity="0.75"/><circle cx="2.2" cy="0.4" r="0.75" fill="#2e211b" opacity="0.75"/><path d="M-1.8,4 Q0,4.8 1.8,4" stroke="#6b3a2e" stroke-width="0.8" fill="none" opacity="0.7"/><path d="M-5.9,-3.2 Q-6.1,-10.2 0,-10.2 Q5.9,-10.2 5.7,-3.2 Q0,-4.2 -5.9,-3.2 Z" fill="#18181f"/></g><circle r="10.25" fill="none" stroke="#707070" stroke-width="1.5"/></g>
<g transform="translate(757.9,352.2)"><circle r="10.25" fill="#fff"/><g transform="scale(0.975)" clip-path="url(#fc)"><path d="M-7.5,8.6 Q-6.5,6.8 -3,6.6 L3,6.6 Q6.5,6.8 7.5,8.6 L8,10.2 Q0,12.4 -8,10.2 Z" fill="#34406a"/><path d="M-3.4,4 L3.4,4 L3.6,8.6 Q0,9.8 -3.6,8.6 Z" fill="#c4937a"/><path d="M-5.3,-4 L5.3,-4 L5.2,2.5 Q4.6,6.6 0,7 Q-4.6,6.6 -5.2,2.5 Z" fill="#c4937a"/><circle cx="-2.2" cy="0.4" r="0.75" fill="#2e211b" opacity="0.75"/><circle cx="2.2" cy="0.4" r="0.75" fill="#2e211b" opacity="0.75"/><path d="M-1.8,4 Q0,4.8 1.8,4" stroke="#6b3a2e" stroke-width="0.8" fill="none" opacity="0.7"/><path d="M-5.9,-3.2 Q-6.1,-10.2 0,-10.2 Q5.9,-10.2 5.7,-3.2 Q0,-4.2 -5.9,-3.2 Z" fill="#18181f"/></g><circle r="10.25" fill="none" stroke="#707070" stroke-width="1.5"/></g>
<g transform="translate(792.0,347.0)"><circle r="10.25" fill="#fff"/><g transform="scale(0.975)" clip-path="url(#fc)"><path d="M-7.5,8.6 Q-6.5,6.8 -3,6.6 L3,6.6 Q6.5,6.8 7.5,8.6 L8,10.2 Q0,12.4 -8,10.2 Z" fill="#34406a"/><path d="M-3.4,4 L3.4,4 L3.6,8.6 Q0,9.8 -3.6,8.6 Z" fill="#775342"/><path d="M-5.3,-4 L5.3,-4 L5.2,2.5 Q4.6,6.6 0,7 Q-4.6,6.6 -5.2,2.5 Z" fill="#775342"/><circle cx="-2.2" cy="0.4" r="0.75" fill="#2e211b" opacity="0.75"/><circle cx="2.2" cy="0.4" r="0.75" fill="#2e211b" opacity="0.75"/><path d="M-1.8,4 Q0,4.8 1.8,4" stroke="#6b3a2e" stroke-width="0.8" fill="none" opacity="0.7"/><path d="M-5.9,-3.2 Q-6.1,-10.2 0,-10.2 Q5.9,-10.2 5.7,-3.2 Q0,-4.2 -5.9,-3.2 Z" fill="#c42430"/></g><circle r="10.25" fill="none" stroke="#707070" stroke-width="1.5"/></g>
<g transform="translate(814.0,350.0)"><circle r="10.25" fill="#fff"/><g transform="scale(0.975)" clip-path="url(#fc)"><path d="M-7.5,8.6 Q-6.5,6.8 -3,6.6 L3,6.6 Q6.5,6.8 7.5,8.6 L8,10.2 Q0,12.4 -8,10.2 Z" fill="#f4f4f6"/><path d="M-3.4,4 L3.4,4 L3.6,8.6 Q0,9.8 -3.6,8.6 Z" fill="#dcb199"/><path d="M-5.3,-4 L5.3,-4 L5.2,2.5 Q4.6,6.6 0,7 Q-4.6,6.6 -5.2,2.5 Z" fill="#dcb199"/><circle cx="-2.2" cy="0.4" r="0.75" fill="#2e211b" opacity="0.75"/><circle cx="2.2" cy="0.4" r="0.75" fill="#2e211b" opacity="0.75"/><path d="M-1.8,4 Q0,4.8 1.8,4" stroke="#6b3a2e" stroke-width="0.8" fill="none" opacity="0.7"/><path d="M-5.9,-3.2 Q-6.1,-10.2 0,-10.2 Q5.9,-10.2 5.7,-3.2 Q0,-4.2 -5.9,-3.2 Z" fill="#c42430"/></g><circle r="10.25" fill="none" stroke="#707070" stroke-width="1.5"/></g>
<g transform="translate(787.0,364.0)"><circle r="10.25" fill="#fff"/><g transform="scale(0.975)" clip-path="url(#fc)"><path d="M-7.5,8.6 Q-6.5,6.8 -3,6.6 L3,6.6 Q6.5,6.8 7.5,8.6 L8,10.2 Q0,12.4 -8,10.2 Z" fill="#ffffff"/><path d="M-3.4,4 L3.4,4 L3.6,8.6 Q0,9.8 -3.6,8.6 Z" fill="#e0b79e"/><path d="M-5.3,-4 L5.3,-4 L5.2,2.5 Q4.6,6.6 0,7 Q-4.6,6.6 -5.2,2.5 Z" fill="#e0b79e"/><circle cx="-2.2" cy="0.4" r="0.75" fill="#2e211b" opacity="0.75"/><circle cx="2.2" cy="0.4" r="0.75" fill="#2e211b" opacity="0.75"/><path d="M-1.8,4 Q0,4.8 1.8,4" stroke="#6b3a2e" stroke-width="0.8" fill="none" opacity="0.7"/><path d="M-5.9,-3.2 Q-6.1,-10.2 0,-10.2 Q5.9,-10.2 5.7,-3.2 Q0,-4.2 -5.9,-3.2 Z" fill="#1d2a52"/></g><circle r="10.25" fill="none" stroke="#707070" stroke-width="1.5"/></g>
<g transform="translate(768.0,368.0)"><circle r="10.25" fill="#fff"/><g transform="scale(0.975)" clip-path="url(#fc)"><path d="M-7.5,8.6 Q-6.5,6.8 -3,6.6 L3,6.6 Q6.5,6.8 7.5,8.6 L8,10.2 Q0,12.4 -8,10.2 Z" fill="#b84040"/><path d="M-3.4,4 L3.4,4 L3.6,8.6 Q0,9.8 -3.6,8.6 Z" fill="#e0b79e"/><path d="M-5.3,-4 L5.3,-4 L5.2,2.5 Q4.6,6.6 0,7 Q-4.6,6.6 -5.2,2.5 Z" fill="#e0b79e"/><circle cx="-2.2" cy="0.4" r="0.75" fill="#2e211b" opacity="0.75"/><circle cx="2.2" cy="0.4" r="0.75" fill="#2e211b" opacity="0.75"/><path d="M-1.8,4 Q0,4.8 1.8,4" stroke="#6b3a2e" stroke-width="0.8" fill="none" opacity="0.7"/><path d="M-5.9,-3.2 Q-6.1,-10.2 0,-10.2 Q5.9,-10.2 5.7,-3.2 Q0,-4.2 -5.9,-3.2 Z" fill="#27472c"/></g><circle r="10.25" fill="none" stroke="#707070" stroke-width="1.5"/></g>
<g transform="translate(751.4,375.3)"><circle r="10.25" fill="#fff"/><g transform="scale(0.975)" clip-path="url(#fc)"><path d="M-7.5,8.6 Q-6.5,6.8 -3,6.6 L3,6.6 Q6.5,6.8 7.5,8.6 L8,10.2 Q0,12.4 -8,10.2 Z" fill="#e8e8ee"/><path d="M-3.4,4 L3.4,4 L3.6,8.6 Q0,9.8 -3.6,8.6 Z" fill="#c99d84"/><path d="M-5.3,-4 L5.3,-4 L5.2,2.5 Q4.6,6.6 0,7 Q-4.6,6.6 -5.2,2.5 Z" fill="#c99d84"/><circle cx="-2.2" cy="0.4" r="0.75" fill="#2e211b" opacity="0.75"/><circle cx="2.2" cy="0.4" r="0.75" fill="#2e211b" opacity="0.75"/><path d="M-1.8,4 Q0,4.8 1.8,4" stroke="#6b3a2e" stroke-width="0.8" fill="none" opacity="0.7"/><path d="M-5.9,-3.2 Q-6.1,-10.2 0,-10.2 Q5.9,-10.2 5.7,-3.2 Q0,-4.2 -5.9,-3.2 Z" fill="#18181f"/></g><circle r="10.25" fill="none" stroke="#707070" stroke-width="1.5"/></g>
<g transform="translate(734.3,381.0)"><circle r="10.25" fill="#fff"/><g transform="scale(0.975)" clip-path="url(#fc)"><path d="M-7.5,8.6 Q-6.5,6.8 -3,6.6 L3,6.6 Q6.5,6.8 7.5,8.6 L8,10.2 Q0,12.4 -8,10.2 Z" fill="#ffffff"/><path d="M-3.4,4 L3.4,4 L3.6,8.6 Q0,9.8 -3.6,8.6 Z" fill="#e4baa2"/><path d="M-5.3,-4 L5.3,-4 L5.2,2.5 Q4.6,6.6 0,7 Q-4.6,6.6 -5.2,2.5 Z" fill="#e4baa2"/><circle cx="-2.2" cy="0.4" r="0.75" fill="#2e211b" opacity="0.75"/><circle cx="2.2" cy="0.4" r="0.75" fill="#2e211b" opacity="0.75"/><path d="M-1.8,4 Q0,4.8 1.8,4" stroke="#6b3a2e" stroke-width="0.8" fill="none" opacity="0.7"/><path d="M-5.9,-3.2 Q-6.1,-10.2 0,-10.2 Q5.9,-10.2 5.7,-3.2 Q0,-4.2 -5.9,-3.2 Z" fill="#1d2a52"/></g><circle r="10.25" fill="none" stroke="#707070" stroke-width="1.5"/></g>
<g transform="translate(716.0,379.0)"><circle r="10.25" fill="#fff"/><g transform="scale(0.975)" clip-path="url(#fc)"><path d="M-7.5,8.6 Q-6.5,6.8 -3,6.6 L3,6.6 Q6.5,6.8 7.5,8.6 L8,10.2 Q0,12.4 -8,10.2 Z" fill="#ffffff"/><path d="M-3.4,4 L3.4,4 L3.6,8.6 Q0,9.8 -3.6,8.6 Z" fill="#e0b79e"/><path d="M-5.3,-4 L5.3,-4 L5.2,2.5 Q4.6,6.6 0,7 Q-4.6,6.6 -5.2,2.5 Z" fill="#e0b79e"/><circle cx="-2.2" cy="0.4" r="0.75" fill="#2e211b" opacity="0.75"/><circle cx="2.2" cy="0.4" r="0.75" fill="#2e211b" opacity="0.75"/><path d="M-1.8,4 Q0,4.8 1.8,4" stroke="#6b3a2e" stroke-width="0.8" fill="none" opacity="0.7"/><path d="M-5.9,-3.2 Q-6.1,-10.2 0,-10.2 Q5.9,-10.2 5.7,-3.2 Q0,-4.2 -5.9,-3.2 Z" fill="#18181f"/></g><circle r="10.25" fill="none" stroke="#707070" stroke-width="1.5"/></g>
<g transform="translate(708.8,395.8)"><circle r="10.25" fill="#fff"/><g transform="scale(0.975)" clip-path="url(#fc)"><path d="M-7.5,8.6 Q-6.5,6.8 -3,6.6 L3,6.6 Q6.5,6.8 7.5,8.6 L8,10.2 Q0,12.4 -8,10.2 Z" fill="#d5d8e0"/><path d="M-3.4,4 L3.4,4 L3.6,8.6 Q0,9.8 -3.6,8.6 Z" fill="#e6bea6"/><path d="M-5.3,-4 L5.3,-4 L5.2,2.5 Q4.6,6.6 0,7 Q-4.6,6.6 -5.2,2.5 Z" fill="#e6bea6"/><circle cx="-2.2" cy="0.4" r="0.75" fill="#2e211b" opacity="0.75"/><circle cx="2.2" cy="0.4" r="0.75" fill="#2e211b" opacity="0.75"/><path d="M-4.9,2.2 Q-4.4,6.8 0,7 Q4.4,6.8 4.9,2.2 Q3.6,5.3 0,5.2 Q-3.6,5.3 -4.9,2.2 Z" fill="#2a1c16" opacity="0.7"/><path d="M-5.9,-3.2 Q-6.1,-10.2 0,-10.2 Q5.9,-10.2 5.7,-3.2 Q0,-4.2 -5.9,-3.2 Z" fill="#c42430"/></g><circle r="10.25" fill="none" stroke="#707070" stroke-width="1.5"/></g>
<g transform="translate(727.0,399.5)"><circle r="10.25" fill="#fff"/><g transform="scale(0.975)" clip-path="url(#fc)"><path d="M-7.5,8.6 Q-6.5,6.8 -3,6.6 L3,6.6 Q6.5,6.8 7.5,8.6 L8,10.2 Q0,12.4 -8,10.2 Z" fill="#34406a"/><path d="M-3.4,4 L3.4,4 L3.6,8.6 Q0,9.8 -3.6,8.6 Z" fill="#85604c"/><path d="M-5.3,-4 L5.3,-4 L5.2,2.5 Q4.6,6.6 0,7 Q-4.6,6.6 -5.2,2.5 Z" fill="#85604c"/><circle cx="-2.2" cy="0.4" r="0.75" fill="#2e211b" opacity="0.75"/><circle cx="2.2" cy="0.4" r="0.75" fill="#2e211b" opacity="0.75"/><path d="M-4.9,2.2 Q-4.4,6.8 0,7 Q4.4,6.8 4.9,2.2 Q3.6,5.3 0,5.2 Q-3.6,5.3 -4.9,2.2 Z" fill="#2a1c16" opacity="0.7"/><path d="M-5.9,-3.2 Q-6.1,-10.2 0,-10.2 Q5.9,-10.2 5.7,-3.2 Q0,-4.2 -5.9,-3.2 Z" fill="#1d2a52"/></g><circle r="10.25" fill="none" stroke="#707070" stroke-width="1.5"/></g>
<g transform="translate(745.5,397.0)"><circle r="10.25" fill="#fff"/><g transform="scale(0.975)" clip-path="url(#fc)"><path d="M-7.5,8.6 Q-6.5,6.8 -3,6.6 L3,6.6 Q6.5,6.8 7.5,8.6 L8,10.2 Q0,12.4 -8,10.2 Z" fill="#e8e8ee"/><path d="M-3.4,4 L3.4,4 L3.6,8.6 Q0,9.8 -3.6,8.6 Z" fill="#bb8a70"/><path d="M-5.3,-4 L5.3,-4 L5.2,2.5 Q4.6,6.6 0,7 Q-4.6,6.6 -5.2,2.5 Z" fill="#bb8a70"/><circle cx="-2.2" cy="0.4" r="0.75" fill="#2e211b" opacity="0.75"/><circle cx="2.2" cy="0.4" r="0.75" fill="#2e211b" opacity="0.75"/><path d="M-1.8,4 Q0,4.8 1.8,4" stroke="#6b3a2e" stroke-width="0.8" fill="none" opacity="0.7"/><path d="M-5.9,-3.2 Q-6.1,-10.2 0,-10.2 Q5.9,-10.2 5.7,-3.2 Q0,-4.2 -5.9,-3.2 Z" fill="#1d2a52"/></g><circle r="10.25" fill="none" stroke="#707070" stroke-width="1.5"/></g>
<g transform="translate(762.0,387.0)"><circle r="10.25" fill="#fff"/><g transform="scale(0.975)" clip-path="url(#fc)"><path d="M-7.5,8.6 Q-6.5,6.8 -3,6.6 L3,6.6 Q6.5,6.8 7.5,8.6 L8,10.2 Q0,12.4 -8,10.2 Z" fill="#ffffff"/><path d="M-3.4,4 L3.4,4 L3.6,8.6 Q0,9.8 -3.6,8.6 Z" fill="#e0b79e"/><path d="M-5.3,-4 L5.3,-4 L5.2,2.5 Q4.6,6.6 0,7 Q-4.6,6.6 -5.2,2.5 Z" fill="#e0b79e"/><circle cx="-2.2" cy="0.4" r="0.75" fill="#2e211b" opacity="0.75"/><circle cx="2.2" cy="0.4" r="0.75" fill="#2e211b" opacity="0.75"/><path d="M-1.8,4 Q0,4.8 1.8,4" stroke="#6b3a2e" stroke-width="0.8" fill="none" opacity="0.7"/><path d="M-5.9,-3.2 Q-6.1,-10.2 0,-10.2 Q5.9,-10.2 5.7,-3.2 Q0,-4.2 -5.9,-3.2 Z" fill="#18181f"/></g><circle r="10.25" fill="none" stroke="#707070" stroke-width="1.5"/></g>
<g transform="translate(795.6,380.0)"><circle r="10.25" fill="#fff"/><g transform="scale(0.975)" clip-path="url(#fc)"><path d="M-7.5,8.6 Q-6.5,6.8 -3,6.6 L3,6.6 Q6.5,6.8 7.5,8.6 L8,10.2 Q0,12.4 -8,10.2 Z" fill="#8a8d98"/><path d="M-3.4,4 L3.4,4 L3.6,8.6 Q0,9.8 -3.6,8.6 Z" fill="#e0b79e"/><path d="M-5.3,-4 L5.3,-4 L5.2,2.5 Q4.6,6.6 0,7 Q-4.6,6.6 -5.2,2.5 Z" fill="#e0b79e"/><circle cx="-2.2" cy="0.4" r="0.75" fill="#2e211b" opacity="0.75"/><circle cx="2.2" cy="0.4" r="0.75" fill="#2e211b" opacity="0.75"/><path d="M-1.8,4 Q0,4.8 1.8,4" stroke="#6b3a2e" stroke-width="0.8" fill="none" opacity="0.7"/><path d="M-5.9,-3.2 Q-6.1,-10.2 0,-10.2 Q5.9,-10.2 5.7,-3.2 Q0,-4.2 -5.9,-3.2 Z" fill="#c42430"/></g><circle r="10.25" fill="none" stroke="#707070" stroke-width="1.5"/></g>
<g transform="translate(816.4,393.3)"><circle r="11.50" fill="#fff"/><g transform="scale(1.086)" clip-path="url(#fc)"><path d="M-7.5,8.6 Q-6.5,6.8 -3,6.6 L3,6.6 Q6.5,6.8 7.5,8.6 L8,10.2 Q0,12.4 -8,10.2 Z" fill="#e8e8ee"/><path d="M-3.4,4 L3.4,4 L3.6,8.6 Q0,9.8 -3.6,8.6 Z" fill="#bb8a70"/><path d="M-5.3,-4 L5.3,-4 L5.2,2.5 Q4.6,6.6 0,7 Q-4.6,6.6 -5.2,2.5 Z" fill="#bb8a70"/><circle cx="-2.2" cy="0.4" r="0.75" fill="#2e211b" opacity="0.75"/><circle cx="2.2" cy="0.4" r="0.75" fill="#2e211b" opacity="0.75"/><path d="M-1.8,4 Q0,4.8 1.8,4" stroke="#6b3a2e" stroke-width="0.8" fill="none" opacity="0.7"/><path d="M-5.9,-3.2 Q-6.1,-10.2 0,-10.2 Q5.9,-10.2 5.7,-3.2 Q0,-4.2 -5.9,-3.2 Z" fill="#18181f"/></g><circle r="11.50" fill="none" stroke="#707070" stroke-width="1.5"/></g>
<g transform="translate(831.0,383.0)"><circle r="10.25" fill="#fff"/><g transform="scale(0.975)" clip-path="url(#fc)"><path d="M-7.5,8.6 Q-6.5,6.8 -3,6.6 L3,6.6 Q6.5,6.8 7.5,8.6 L8,10.2 Q0,12.4 -8,10.2 Z" fill="#ffffff"/><path d="M-3.4,4 L3.4,4 L3.6,8.6 Q0,9.8 -3.6,8.6 Z" fill="#e6bea6"/><path d="M-5.3,-4 L5.3,-4 L5.2,2.5 Q4.6,6.6 0,7 Q-4.6,6.6 -5.2,2.5 Z" fill="#e6bea6"/><circle cx="-2.2" cy="0.4" r="0.75" fill="#2e211b" opacity="0.75"/><circle cx="2.2" cy="0.4" r="0.75" fill="#2e211b" opacity="0.75"/><path d="M-4.9,2.2 Q-4.4,6.8 0,7 Q4.4,6.8 4.9,2.2 Q3.6,5.3 0,5.2 Q-3.6,5.3 -4.9,2.2 Z" fill="#2a1c16" opacity="0.7"/><path d="M-5.9,-3.2 Q-6.1,-10.2 0,-10.2 Q5.9,-10.2 5.7,-3.2 Q0,-4.2 -5.9,-3.2 Z" fill="#1d2a52"/></g><circle r="10.25" fill="none" stroke="#707070" stroke-width="1.5"/></g>
<g transform="translate(848.5,385.0)"><circle r="10.25" fill="#fff"/><g transform="scale(0.975)" clip-path="url(#fc)"><path d="M-7.5,8.6 Q-6.5,6.8 -3,6.6 L3,6.6 Q6.5,6.8 7.5,8.6 L8,10.2 Q0,12.4 -8,10.2 Z" fill="#d5d8e0"/><path d="M-3.4,4 L3.4,4 L3.6,8.6 Q0,9.8 -3.6,8.6 Z" fill="#e0b79e"/><path d="M-5.3,-4 L5.3,-4 L5.2,2.5 Q4.6,6.6 0,7 Q-4.6,6.6 -5.2,2.5 Z" fill="#e0b79e"/><circle cx="-2.2" cy="0.4" r="0.75" fill="#2e211b" opacity="0.75"/><circle cx="2.2" cy="0.4" r="0.75" fill="#2e211b" opacity="0.75"/><path d="M-1.8,4 Q0,4.8 1.8,4" stroke="#6b3a2e" stroke-width="0.8" fill="none" opacity="0.7"/><path d="M-5.9,-3.2 Q-6.1,-10.2 0,-10.2 Q5.9,-10.2 5.7,-3.2 Q0,-4.2 -5.9,-3.2 Z" fill="#18181f"/></g><circle r="10.25" fill="none" stroke="#707070" stroke-width="1.5"/></g>
<g transform="translate(863.4,359.6)"><circle r="10.25" fill="#fff"/><g transform="scale(0.975)" clip-path="url(#fc)"><path d="M-7.5,8.6 Q-6.5,6.8 -3,6.6 L3,6.6 Q6.5,6.8 7.5,8.6 L8,10.2 Q0,12.4 -8,10.2 Z" fill="#8a8d98"/><path d="M-3.4,4 L3.4,4 L3.6,8.6 Q0,9.8 -3.6,8.6 Z" fill="#e6bea6"/><path d="M-5.3,-4 L5.3,-4 L5.2,2.5 Q4.6,6.6 0,7 Q-4.6,6.6 -5.2,2.5 Z" fill="#e6bea6"/><circle cx="-2.2" cy="0.4" r="0.75" fill="#2e211b" opacity="0.75"/><circle cx="2.2" cy="0.4" r="0.75" fill="#2e211b" opacity="0.75"/><path d="M-1.8,4 Q0,4.8 1.8,4" stroke="#6b3a2e" stroke-width="0.8" fill="none" opacity="0.7"/><path d="M-5.9,-3.2 Q-6.1,-10.2 0,-10.2 Q5.9,-10.2 5.7,-3.2 Q0,-4.2 -5.9,-3.2 Z" fill="#ececec"/><path d="M-6,-3.3 Q0,-4.4 5.8,-3.3 L5.8,-2.2 Q0,-3.3 -6,-2.2 Z" fill="#1a1a1a"/><circle cx="0" cy="-7" r="1.6" fill="#e06a20"/></g><circle r="10.25" fill="none" stroke="#707070" stroke-width="1.5"/></g>
<g transform="translate(909.6,352.4)"><circle r="10.75" fill="#fff"/><g transform="scale(1.019)" clip-path="url(#fc)"><path d="M-7.5,8.6 Q-6.5,6.8 -3,6.6 L3,6.6 Q6.5,6.8 7.5,8.6 L8,10.2 Q0,12.4 -8,10.2 Z" fill="#d5d8e0"/><path d="M-3.4,4 L3.4,4 L3.6,8.6 Q0,9.8 -3.6,8.6 Z" fill="#bb8a70"/><path d="M-5.3,-4 L5.3,-4 L5.2,2.5 Q4.6,6.6 0,7 Q-4.6,6.6 -5.2,2.5 Z" fill="#bb8a70"/><circle cx="-2.2" cy="0.4" r="0.75" fill="#2e211b" opacity="0.75"/><circle cx="2.2" cy="0.4" r="0.75" fill="#2e211b" opacity="0.75"/><path d="M-4.9,2.2 Q-4.4,6.8 0,7 Q4.4,6.8 4.9,2.2 Q3.6,5.3 0,5.2 Q-3.6,5.3 -4.9,2.2 Z" fill="#2a1c16" opacity="0.7"/><path d="M-5.9,-3.2 Q-6.1,-10.2 0,-10.2 Q5.9,-10.2 5.7,-3.2 Q0,-4.2 -5.9,-3.2 Z" fill="#c42430"/></g><circle r="10.75" fill="none" stroke="#707070" stroke-width="1.5"/></g>
<g transform="translate(914.0,370.4)"><circle r="9.75" fill="#fff"/><g transform="scale(0.930)" clip-path="url(#fc)"><path d="M-7.5,8.6 Q-6.5,6.8 -3,6.6 L3,6.6 Q6.5,6.8 7.5,8.6 L8,10.2 Q0,12.4 -8,10.2 Z" fill="#b84040"/><path d="M-3.4,4 L3.4,4 L3.6,8.6 Q0,9.8 -3.6,8.6 Z" fill="#bb8a70"/><path d="M-5.3,-4 L5.3,-4 L5.2,2.5 Q4.6,6.6 0,7 Q-4.6,6.6 -5.2,2.5 Z" fill="#bb8a70"/><circle cx="-2.2" cy="0.4" r="0.75" fill="#2e211b" opacity="0.75"/><circle cx="2.2" cy="0.4" r="0.75" fill="#2e211b" opacity="0.75"/><path d="M-1.8,4 Q0,4.8 1.8,4" stroke="#6b3a2e" stroke-width="0.8" fill="none" opacity="0.7"/><path d="M-5.9,-3.2 Q-6.1,-10.2 0,-10.2 Q5.9,-10.2 5.7,-3.2 Q0,-4.2 -5.9,-3.2 Z" fill="#1d2a52"/></g><circle r="9.75" fill="none" stroke="#707070" stroke-width="1.5"/></g>
<g transform="translate(885.0,383.5)"><circle r="10.25" fill="#fff"/><g transform="scale(0.975)" clip-path="url(#fc)"><path d="M-7.5,8.6 Q-6.5,6.8 -3,6.6 L3,6.6 Q6.5,6.8 7.5,8.6 L8,10.2 Q0,12.4 -8,10.2 Z" fill="#f4f4f6"/><path d="M-3.4,4 L3.4,4 L3.6,8.6 Q0,9.8 -3.6,8.6 Z" fill="#85604c"/><path d="M-5.3,-4 L5.3,-4 L5.2,2.5 Q4.6,6.6 0,7 Q-4.6,6.6 -5.2,2.5 Z" fill="#85604c"/><circle cx="-2.2" cy="0.4" r="0.75" fill="#2e211b" opacity="0.75"/><circle cx="2.2" cy="0.4" r="0.75" fill="#2e211b" opacity="0.75"/><path d="M-4.9,2.2 Q-4.4,6.8 0,7 Q4.4,6.8 4.9,2.2 Q3.6,5.3 0,5.2 Q-3.6,5.3 -4.9,2.2 Z" fill="#2a1c16" opacity="0.7"/><path d="M-5.9,-3.2 Q-6.1,-10.2 0,-10.2 Q5.9,-10.2 5.7,-3.2 Q0,-4.2 -5.9,-3.2 Z" fill="#18181f"/></g><circle r="10.25" fill="none" stroke="#707070" stroke-width="1.5"/></g>
<g transform="translate(903.3,384.0)"><circle r="10.25" fill="#fff"/><g transform="scale(0.975)" clip-path="url(#fc)"><path d="M-7.5,8.6 Q-6.5,6.8 -3,6.6 L3,6.6 Q6.5,6.8 7.5,8.6 L8,10.2 Q0,12.4 -8,10.2 Z" fill="#ffffff"/><path d="M-3.4,4 L3.4,4 L3.6,8.6 Q0,9.8 -3.6,8.6 Z" fill="#dcb199"/><path d="M-5.3,-4 L5.3,-4 L5.2,2.5 Q4.6,6.6 0,7 Q-4.6,6.6 -5.2,2.5 Z" fill="#dcb199"/><circle cx="-2.2" cy="0.4" r="0.75" fill="#2e211b" opacity="0.75"/><circle cx="2.2" cy="0.4" r="0.75" fill="#2e211b" opacity="0.75"/><path d="M-1.8,4 Q0,4.8 1.8,4" stroke="#6b3a2e" stroke-width="0.8" fill="none" opacity="0.7"/><path d="M-5.9,-3.2 Q-6.1,-10.2 0,-10.2 Q5.9,-10.2 5.7,-3.2 Q0,-4.2 -5.9,-3.2 Z" fill="#18181f"/></g><circle r="10.25" fill="none" stroke="#707070" stroke-width="1.5"/></g>
<g transform="translate(788.5,406.6)"><circle r="11.35" fill="#fff"/><g transform="scale(1.072)" clip-path="url(#fc)"><path d="M-7.5,8.6 Q-6.5,6.8 -3,6.6 L3,6.6 Q6.5,6.8 7.5,8.6 L8,10.2 Q0,12.4 -8,10.2 Z" fill="#d5d8e0"/><path d="M-3.4,4 L3.4,4 L3.6,8.6 Q0,9.8 -3.6,8.6 Z" fill="#bb8a70"/><path d="M-5.3,-4 L5.3,-4 L5.2,2.5 Q4.6,6.6 0,7 Q-4.6,6.6 -5.2,2.5 Z" fill="#bb8a70"/><circle cx="-2.2" cy="0.4" r="0.75" fill="#2e211b" opacity="0.75"/><circle cx="2.2" cy="0.4" r="0.75" fill="#2e211b" opacity="0.75"/><path d="M-4.9,2.2 Q-4.4,6.8 0,7 Q4.4,6.8 4.9,2.2 Q3.6,5.3 0,5.2 Q-3.6,5.3 -4.9,2.2 Z" fill="#2a1c16" opacity="0.7"/><path d="M-5.9,-3.2 Q-6.1,-10.2 0,-10.2 Q5.9,-10.2 5.7,-3.2 Q0,-4.2 -5.9,-3.2 Z" fill="#18181f"/></g><circle r="11.35" fill="none" stroke="#707070" stroke-width="1.5"/></g>
<g transform="translate(820.5,424.8)"><circle r="10.90" fill="#fff"/><g transform="scale(1.032)" clip-path="url(#fc)"><path d="M-7.5,8.6 Q-6.5,6.8 -3,6.6 L3,6.6 Q6.5,6.8 7.5,8.6 L8,10.2 Q0,12.4 -8,10.2 Z" fill="#e8e8ee"/><path d="M-3.4,4 L3.4,4 L3.6,8.6 Q0,9.8 -3.6,8.6 Z" fill="#c4937a"/><path d="M-5.3,-4 L5.3,-4 L5.2,2.5 Q4.6,6.6 0,7 Q-4.6,6.6 -5.2,2.5 Z" fill="#c4937a"/><circle cx="-2.2" cy="0.4" r="0.75" fill="#2e211b" opacity="0.75"/><circle cx="2.2" cy="0.4" r="0.75" fill="#2e211b" opacity="0.75"/><path d="M-1.8,4 Q0,4.8 1.8,4" stroke="#6b3a2e" stroke-width="0.8" fill="none" opacity="0.7"/><path d="M-5.9,-3.2 Q-6.1,-10.2 0,-10.2 Q5.9,-10.2 5.7,-3.2 Q0,-4.2 -5.9,-3.2 Z" fill="#1d2a52"/></g><circle r="10.90" fill="none" stroke="#707070" stroke-width="1.5"/></g>
<g transform="translate(864.7,418.2)"><circle r="11.25" fill="#fff"/><g transform="scale(1.063)" clip-path="url(#fc)"><path d="M-7.5,8.6 Q-6.5,6.8 -3,6.6 L3,6.6 Q6.5,6.8 7.5,8.6 L8,10.2 Q0,12.4 -8,10.2 Z" fill="#34406a"/><path d="M-3.4,4 L3.4,4 L3.6,8.6 Q0,9.8 -3.6,8.6 Z" fill="#c4937a"/><path d="M-5.3,-4 L5.3,-4 L5.2,2.5 Q4.6,6.6 0,7 Q-4.6,6.6 -5.2,2.5 Z" fill="#c4937a"/><circle cx="-2.2" cy="0.4" r="0.75" fill="#2e211b" opacity="0.75"/><circle cx="2.2" cy="0.4" r="0.75" fill="#2e211b" opacity="0.75"/><path d="M-1.8,4 Q0,4.8 1.8,4" stroke="#6b3a2e" stroke-width="0.8" fill="none" opacity="0.7"/><path d="M-5.9,-3.2 Q-6.1,-10.2 0,-10.2 Q5.9,-10.2 5.7,-3.2 Q0,-4.2 -5.9,-3.2 Z" fill="#18181f"/></g><circle r="11.25" fill="none" stroke="#707070" stroke-width="1.5"/></g>
<g transform="translate(1035.5,407.0)"><circle r="10.25" fill="#fff"/><g transform="scale(0.975)" clip-path="url(#fc)"><path d="M-7.5,8.6 Q-6.5,6.8 -3,6.6 L3,6.6 Q6.5,6.8 7.5,8.6 L8,10.2 Q0,12.4 -8,10.2 Z" fill="#ffffff"/><path d="M-3.4,4 L3.4,4 L3.6,8.6 Q0,9.8 -3.6,8.6 Z" fill="#694838"/><path d="M-5.3,-4 L5.3,-4 L5.2,2.5 Q4.6,6.6 0,7 Q-4.6,6.6 -5.2,2.5 Z" fill="#694838"/><circle cx="-2.2" cy="0.4" r="0.75" fill="#2e211b" opacity="0.75"/><circle cx="2.2" cy="0.4" r="0.75" fill="#2e211b" opacity="0.75"/><path d="M-1.8,4 Q0,4.8 1.8,4" stroke="#6b3a2e" stroke-width="0.8" fill="none" opacity="0.7"/><path d="M-5.9,-3.2 Q-6.1,-10.2 0,-10.2 Q5.9,-10.2 5.7,-3.2 Q0,-4.2 -5.9,-3.2 Z" fill="#c42430"/></g><circle r="10.25" fill="none" stroke="#707070" stroke-width="1.5"/></g>
<g transform="translate(1049.8,426.7)"><circle r="9.75" fill="#fff"/><g transform="scale(0.930)" clip-path="url(#fc)"><path d="M-7.5,8.6 Q-6.5,6.8 -3,6.6 L3,6.6 Q6.5,6.8 7.5,8.6 L8,10.2 Q0,12.4 -8,10.2 Z" fill="#e8e8ee"/><path d="M-3.4,4 L3.4,4 L3.6,8.6 Q0,9.8 -3.6,8.6 Z" fill="#dcb199"/><path d="M-5.3,-4 L5.3,-4 L5.2,2.5 Q4.6,6.6 0,7 Q-4.6,6.6 -5.2,2.5 Z" fill="#dcb199"/><circle cx="-2.2" cy="0.4" r="0.75" fill="#2e211b" opacity="0.75"/><circle cx="2.2" cy="0.4" r="0.75" fill="#2e211b" opacity="0.75"/><path d="M-1.8,4 Q0,4.8 1.8,4" stroke="#6b3a2e" stroke-width="0.8" fill="none" opacity="0.7"/><path d="M-5.9,-3.2 Q-6.1,-10.2 0,-10.2 Q5.9,-10.2 5.7,-3.2 Q0,-4.2 -5.9,-3.2 Z" fill="#c42430"/></g><circle r="9.75" fill="none" stroke="#707070" stroke-width="1.5"/></g>
<g transform="translate(855.6,466.2)"><circle r="11.25" fill="#fff"/><g transform="scale(1.063)" clip-path="url(#fc)"><path d="M-7.5,8.6 Q-6.5,6.8 -3,6.6 L3,6.6 Q6.5,6.8 7.5,8.6 L8,10.2 Q0,12.4 -8,10.2 Z" fill="#ffffff"/><path d="M-3.4,4 L3.4,4 L3.6,8.6 Q0,9.8 -3.6,8.6 Z" fill="#bb8a70"/><path d="M-5.3,-4 L5.3,-4 L5.2,2.5 Q4.6,6.6 0,7 Q-4.6,6.6 -5.2,2.5 Z" fill="#bb8a70"/><circle cx="-2.2" cy="0.4" r="0.75" fill="#2e211b" opacity="0.75"/><circle cx="2.2" cy="0.4" r="0.75" fill="#2e211b" opacity="0.75"/><path d="M-4.9,2.2 Q-4.4,6.8 0,7 Q4.4,6.8 4.9,2.2 Q3.6,5.3 0,5.2 Q-3.6,5.3 -4.9,2.2 Z" fill="#2a1c16" opacity="0.7"/><path d="M-5.9,-3.2 Q-6.1,-10.2 0,-10.2 Q5.9,-10.2 5.7,-3.2 Q0,-4.2 -5.9,-3.2 Z" fill="#c42430"/></g><circle r="11.25" fill="none" stroke="#707070" stroke-width="1.5"/></g>
<g transform="translate(796.8,438.0)"><circle r="11.55" fill="#fff"/><g transform="scale(1.090)" clip-path="url(#fc)"><path d="M-7.5,8.6 Q-6.5,6.8 -3,6.6 L3,6.6 Q6.5,6.8 7.5,8.6 L8,10.2 Q0,12.4 -8,10.2 Z" fill="#ffffff"/><path d="M-3.4,4 L3.4,4 L3.6,8.6 Q0,9.8 -3.6,8.6 Z" fill="#e0b79e"/><path d="M-5.3,-4 L5.3,-4 L5.2,2.5 Q4.6,6.6 0,7 Q-4.6,6.6 -5.2,2.5 Z" fill="#e0b79e"/><circle cx="-2.2" cy="0.4" r="0.75" fill="#2e211b" opacity="0.75"/><circle cx="2.2" cy="0.4" r="0.75" fill="#2e211b" opacity="0.75"/><path d="M-4.9,2.2 Q-4.4,6.8 0,7 Q4.4,6.8 4.9,2.2 Q3.6,5.3 0,5.2 Q-3.6,5.3 -4.9,2.2 Z" fill="#2a1c16" opacity="0.7"/><path d="M-5.9,-3.2 Q-6.1,-10.2 0,-10.2 Q5.9,-10.2 5.7,-3.2 Q0,-4.2 -5.9,-3.2 Z" fill="#1d2a52"/></g><circle r="11.55" fill="none" stroke="#707070" stroke-width="1.5"/></g>
<g transform="translate(778.6,463.0)"><circle r="9.75" fill="#fff"/><g transform="scale(0.930)" clip-path="url(#fc)"><path d="M-7.5,8.6 Q-6.5,6.8 -3,6.6 L3,6.6 Q6.5,6.8 7.5,8.6 L8,10.2 Q0,12.4 -8,10.2 Z" fill="#ffffff"/><path d="M-3.4,4 L3.4,4 L3.6,8.6 Q0,9.8 -3.6,8.6 Z" fill="#e6bea6"/><path d="M-5.3,-4 L5.3,-4 L5.2,2.5 Q4.6,6.6 0,7 Q-4.6,6.6 -5.2,2.5 Z" fill="#e6bea6"/><circle cx="-2.2" cy="0.4" r="0.75" fill="#2e211b" opacity="0.75"/><circle cx="2.2" cy="0.4" r="0.75" fill="#2e211b" opacity="0.75"/><path d="M-1.8,4 Q0,4.8 1.8,4" stroke="#6b3a2e" stroke-width="0.8" fill="none" opacity="0.7"/><path d="M-5.9,-3.2 Q-6.1,-10.2 0,-10.2 Q5.9,-10.2 5.7,-3.2 Q0,-4.2 -5.9,-3.2 Z" fill="#18181f"/></g><circle r="9.75" fill="none" stroke="#707070" stroke-width="1.5"/></g>
<g transform="translate(796.8,465.9)"><circle r="11.25" fill="#fff"/><g transform="scale(1.063)" clip-path="url(#fc)"><path d="M-7.5,8.6 Q-6.5,6.8 -3,6.6 L3,6.6 Q6.5,6.8 7.5,8.6 L8,10.2 Q0,12.4 -8,10.2 Z" fill="#f4f4f6"/><path d="M-3.4,4 L3.4,4 L3.6,8.6 Q0,9.8 -3.6,8.6 Z" fill="#bb8a70"/><path d="M-5.3,-4 L5.3,-4 L5.2,2.5 Q4.6,6.6 0,7 Q-4.6,6.6 -5.2,2.5 Z" fill="#bb8a70"/><circle cx="-2.2" cy="0.4" r="0.75" fill="#2e211b" opacity="0.75"/><circle cx="2.2" cy="0.4" r="0.75" fill="#2e211b" opacity="0.75"/><path d="M-4.9,2.2 Q-4.4,6.8 0,7 Q4.4,6.8 4.9,2.2 Q3.6,5.3 0,5.2 Q-3.6,5.3 -4.9,2.2 Z" fill="#2a1c16" opacity="0.7"/><path d="M-5.9,-3.2 Q-6.1,-10.2 0,-10.2 Q5.9,-10.2 5.7,-3.2 Q0,-4.2 -5.9,-3.2 Z" fill="#18181f"/></g><circle r="11.25" fill="none" stroke="#707070" stroke-width="1.5"/></g>
<g transform="translate(738.0,425.7)"><circle r="11.40" fill="#fff"/><g transform="scale(1.077)" clip-path="url(#fc)"><path d="M-7.5,8.6 Q-6.5,6.8 -3,6.6 L3,6.6 Q6.5,6.8 7.5,8.6 L8,10.2 Q0,12.4 -8,10.2 Z" fill="#f0f0f0"/><path d="M-3.4,4 L3.4,4 L3.6,8.6 Q0,9.8 -3.6,8.6 Z" fill="#e0b79e"/><path d="M-5.3,-4 L5.3,-4 L5.2,2.5 Q4.6,6.6 0,7 Q-4.6,6.6 -5.2,2.5 Z" fill="#e0b79e"/><circle cx="-2.2" cy="0.4" r="0.75" fill="#2e211b" opacity="0.75"/><circle cx="2.2" cy="0.4" r="0.75" fill="#2e211b" opacity="0.75"/><path d="M-1.8,4 Q0,4.8 1.8,4" stroke="#6b3a2e" stroke-width="0.8" fill="none" opacity="0.7"/><path d="M-5.9,-3.2 Q-6.1,-10.2 0,-10.2 Q5.9,-10.2 5.7,-3.2 Q0,-4.2 -5.9,-3.2 Z" fill="#18181f"/></g><circle r="11.40" fill="none" stroke="#707070" stroke-width="1.5"/></g>
<g transform="translate(720.6,418.2)"><circle r="11.25" fill="#fff"/><g transform="scale(1.063)" clip-path="url(#fc)"><path d="M-7.5,8.6 Q-6.5,6.8 -3,6.6 L3,6.6 Q6.5,6.8 7.5,8.6 L8,10.2 Q0,12.4 -8,10.2 Z" fill="#8a8d98"/><path d="M-3.4,4 L3.4,4 L3.6,8.6 Q0,9.8 -3.6,8.6 Z" fill="#694838"/><path d="M-5.3,-4 L5.3,-4 L5.2,2.5 Q4.6,6.6 0,7 Q-4.6,6.6 -5.2,2.5 Z" fill="#694838"/><circle cx="-2.2" cy="0.4" r="0.75" fill="#2e211b" opacity="0.75"/><circle cx="2.2" cy="0.4" r="0.75" fill="#2e211b" opacity="0.75"/><path d="M-1.8,4 Q0,4.8 1.8,4" stroke="#6b3a2e" stroke-width="0.8" fill="none" opacity="0.7"/><path d="M-5.9,-3.2 Q-6.1,-10.2 0,-10.2 Q5.9,-10.2 5.7,-3.2 Q0,-4.2 -5.9,-3.2 Z" fill="#2450a8"/></g><circle r="11.25" fill="none" stroke="#707070" stroke-width="1.5"/></g>
<g transform="translate(699.0,410.0)"><circle r="10.25" fill="#fff"/><g transform="scale(0.975)" clip-path="url(#fc)"><path d="M-7.5,8.6 Q-6.5,6.8 -3,6.6 L3,6.6 Q6.5,6.8 7.5,8.6 L8,10.2 Q0,12.4 -8,10.2 Z" fill="#8a8d98"/><path d="M-3.4,4 L3.4,4 L3.6,8.6 Q0,9.8 -3.6,8.6 Z" fill="#694838"/><path d="M-5.3,-4 L5.3,-4 L5.2,2.5 Q4.6,6.6 0,7 Q-4.6,6.6 -5.2,2.5 Z" fill="#694838"/><circle cx="-2.2" cy="0.4" r="0.75" fill="#2e211b" opacity="0.75"/><circle cx="2.2" cy="0.4" r="0.75" fill="#2e211b" opacity="0.75"/><path d="M-1.8,4 Q0,4.8 1.8,4" stroke="#6b3a2e" stroke-width="0.8" fill="none" opacity="0.7"/><path d="M-5.9,-3.2 Q-6.1,-10.2 0,-10.2 Q5.9,-10.2 5.7,-3.2 Q0,-4.2 -5.9,-3.2 Z" fill="#18181f"/></g><circle r="10.25" fill="none" stroke="#707070" stroke-width="1.5"/></g>
<g transform="translate(681.8,406.8)"><circle r="10.25" fill="#fff"/><g transform="scale(0.975)" clip-path="url(#fc)"><path d="M-7.5,8.6 Q-6.5,6.8 -3,6.6 L3,6.6 Q6.5,6.8 7.5,8.6 L8,10.2 Q0,12.4 -8,10.2 Z" fill="#d5d8e0"/><path d="M-3.4,4 L3.4,4 L3.6,8.6 Q0,9.8 -3.6,8.6 Z" fill="#694838"/><path d="M-5.3,-4 L5.3,-4 L5.2,2.5 Q4.6,6.6 0,7 Q-4.6,6.6 -5.2,2.5 Z" fill="#694838"/><circle cx="-2.2" cy="0.4" r="0.75" fill="#2e211b" opacity="0.75"/><circle cx="2.2" cy="0.4" r="0.75" fill="#2e211b" opacity="0.75"/><path d="M-4.9,2.2 Q-4.4,6.8 0,7 Q4.4,6.8 4.9,2.2 Q3.6,5.3 0,5.2 Q-3.6,5.3 -4.9,2.2 Z" fill="#2a1c16" opacity="0.7"/><path d="M-5.9,-3.2 Q-6.1,-10.2 0,-10.2 Q5.9,-10.2 5.7,-3.2 Q0,-4.2 -5.9,-3.2 Z" fill="#18181f"/></g><circle r="10.25" fill="none" stroke="#707070" stroke-width="1.5"/></g>
<g transform="translate(666.0,404.0)"><circle r="10.25" fill="#fff"/><g transform="scale(0.975)" clip-path="url(#fc)"><path d="M-7.5,8.6 Q-6.5,6.8 -3,6.6 L3,6.6 Q6.5,6.8 7.5,8.6 L8,10.2 Q0,12.4 -8,10.2 Z" fill="#f4f4f6"/><path d="M-3.4,4 L3.4,4 L3.6,8.6 Q0,9.8 -3.6,8.6 Z" fill="#e6bea6"/><path d="M-5.3,-4 L5.3,-4 L5.2,2.5 Q4.6,6.6 0,7 Q-4.6,6.6 -5.2,2.5 Z" fill="#e6bea6"/><circle cx="-2.2" cy="0.4" r="0.75" fill="#2e211b" opacity="0.75"/><circle cx="2.2" cy="0.4" r="0.75" fill="#2e211b" opacity="0.75"/><path d="M-1.8,4 Q0,4.8 1.8,4" stroke="#6b3a2e" stroke-width="0.8" fill="none" opacity="0.7"/><path d="M-5.9,-3.2 Q-6.1,-10.2 0,-10.2 Q5.9,-10.2 5.7,-3.2 Q0,-4.2 -5.9,-3.2 Z" fill="#c42430"/></g><circle r="10.25" fill="none" stroke="#707070" stroke-width="1.5"/></g>
<g transform="translate(647.0,408.0)"><circle r="10.25" fill="#fff"/><g transform="scale(0.975)" clip-path="url(#fc)"><path d="M-7.5,8.6 Q-6.5,6.8 -3,6.6 L3,6.6 Q6.5,6.8 7.5,8.6 L8,10.2 Q0,12.4 -8,10.2 Z" fill="#ffffff"/><path d="M-3.4,4 L3.4,4 L3.6,8.6 Q0,9.8 -3.6,8.6 Z" fill="#775342"/><path d="M-5.3,-4 L5.3,-4 L5.2,2.5 Q4.6,6.6 0,7 Q-4.6,6.6 -5.2,2.5 Z" fill="#775342"/><circle cx="-2.2" cy="0.4" r="0.75" fill="#2e211b" opacity="0.75"/><circle cx="2.2" cy="0.4" r="0.75" fill="#2e211b" opacity="0.75"/><path d="M-1.8,4 Q0,4.8 1.8,4" stroke="#6b3a2e" stroke-width="0.8" fill="none" opacity="0.7"/><path d="M-5.9,-3.2 Q-6.1,-10.2 0,-10.2 Q5.9,-10.2 5.7,-3.2 Q0,-4.2 -5.9,-3.2 Z" fill="#18181f"/></g><circle r="10.25" fill="none" stroke="#707070" stroke-width="1.5"/></g>
<g transform="translate(669.0,422.0)"><circle r="10.25" fill="#fff"/><g transform="scale(0.975)" clip-path="url(#fc)"><path d="M-7.5,8.6 Q-6.5,6.8 -3,6.6 L3,6.6 Q6.5,6.8 7.5,8.6 L8,10.2 Q0,12.4 -8,10.2 Z" fill="#ffffff"/><path d="M-3.4,4 L3.4,4 L3.6,8.6 Q0,9.8 -3.6,8.6 Z" fill="#e0b79e"/><path d="M-5.3,-4 L5.3,-4 L5.2,2.5 Q4.6,6.6 0,7 Q-4.6,6.6 -5.2,2.5 Z" fill="#e0b79e"/><circle cx="-2.2" cy="0.4" r="0.75" fill="#2e211b" opacity="0.75"/><circle cx="2.2" cy="0.4" r="0.75" fill="#2e211b" opacity="0.75"/><path d="M-1.8,4 Q0,4.8 1.8,4" stroke="#6b3a2e" stroke-width="0.8" fill="none" opacity="0.7"/><path d="M-5.9,-3.2 Q-6.1,-10.2 0,-10.2 Q5.9,-10.2 5.7,-3.2 Q0,-4.2 -5.9,-3.2 Z" fill="#18181f"/></g><circle r="10.25" fill="none" stroke="#707070" stroke-width="1.5"/></g>
<g transform="translate(687.0,423.0)"><circle r="10.25" fill="#fff"/><g transform="scale(0.975)" clip-path="url(#fc)"><path d="M-7.5,8.6 Q-6.5,6.8 -3,6.6 L3,6.6 Q6.5,6.8 7.5,8.6 L8,10.2 Q0,12.4 -8,10.2 Z" fill="#f4f4f6"/><path d="M-3.4,4 L3.4,4 L3.6,8.6 Q0,9.8 -3.6,8.6 Z" fill="#85604c"/><path d="M-5.3,-4 L5.3,-4 L5.2,2.5 Q4.6,6.6 0,7 Q-4.6,6.6 -5.2,2.5 Z" fill="#85604c"/><circle cx="-2.2" cy="0.4" r="0.75" fill="#2e211b" opacity="0.75"/><circle cx="2.2" cy="0.4" r="0.75" fill="#2e211b" opacity="0.75"/><path d="M-4.9,2.2 Q-4.4,6.8 0,7 Q4.4,6.8 4.9,2.2 Q3.6,5.3 0,5.2 Q-3.6,5.3 -4.9,2.2 Z" fill="#2a1c16" opacity="0.7"/><path d="M-5.9,-3.2 Q-6.1,-10.2 0,-10.2 Q5.9,-10.2 5.7,-3.2 Q0,-4.2 -5.9,-3.2 Z" fill="#18181f"/></g><circle r="10.25" fill="none" stroke="#707070" stroke-width="1.5"/></g>
<g transform="translate(647.6,428.0)"><circle r="10.25" fill="#fff"/><g transform="scale(0.975)" clip-path="url(#fc)"><path d="M-7.5,8.6 Q-6.5,6.8 -3,6.6 L3,6.6 Q6.5,6.8 7.5,8.6 L8,10.2 Q0,12.4 -8,10.2 Z" fill="#f4f4f6"/><path d="M-3.4,4 L3.4,4 L3.6,8.6 Q0,9.8 -3.6,8.6 Z" fill="#e6bea6"/><path d="M-5.3,-4 L5.3,-4 L5.2,2.5 Q4.6,6.6 0,7 Q-4.6,6.6 -5.2,2.5 Z" fill="#e6bea6"/><circle cx="-2.2" cy="0.4" r="0.75" fill="#2e211b" opacity="0.75"/><circle cx="2.2" cy="0.4" r="0.75" fill="#2e211b" opacity="0.75"/><path d="M-1.8,4 Q0,4.8 1.8,4" stroke="#6b3a2e" stroke-width="0.8" fill="none" opacity="0.7"/><path d="M-5.9,-3.2 Q-6.1,-10.2 0,-10.2 Q5.9,-10.2 5.7,-3.2 Q0,-4.2 -5.9,-3.2 Z" fill="#18181f"/></g><circle r="10.25" fill="none" stroke="#707070" stroke-width="1.5"/></g>
<g transform="translate(613.6,435.5)"><circle r="10.25" fill="#fff"/><g transform="scale(0.975)" clip-path="url(#fc)"><path d="M-7.5,8.6 Q-6.5,6.8 -3,6.6 L3,6.6 Q6.5,6.8 7.5,8.6 L8,10.2 Q0,12.4 -8,10.2 Z" fill="#f0f0f0"/><path d="M-3.4,4 L3.4,4 L3.6,8.6 Q0,9.8 -3.6,8.6 Z" fill="#85604c"/><path d="M-5.3,-4 L5.3,-4 L5.2,2.5 Q4.6,6.6 0,7 Q-4.6,6.6 -5.2,2.5 Z" fill="#85604c"/><circle cx="-2.2" cy="0.4" r="0.75" fill="#2e211b" opacity="0.75"/><circle cx="2.2" cy="0.4" r="0.75" fill="#2e211b" opacity="0.75"/><path d="M-1.8,4 Q0,4.8 1.8,4" stroke="#6b3a2e" stroke-width="0.8" fill="none" opacity="0.7"/><path d="M-5.9,-3.2 Q-6.1,-10.2 0,-10.2 Q5.9,-10.2 5.7,-3.2 Q0,-4.2 -5.9,-3.2 Z" fill="#1d2a52"/></g><circle r="10.25" fill="none" stroke="#707070" stroke-width="1.5"/></g>
<g transform="translate(628.0,446.5)"><circle r="10.25" fill="#fff"/><g transform="scale(0.975)" clip-path="url(#fc)"><path d="M-7.5,8.6 Q-6.5,6.8 -3,6.6 L3,6.6 Q6.5,6.8 7.5,8.6 L8,10.2 Q0,12.4 -8,10.2 Z" fill="#ffffff"/><path d="M-3.4,4 L3.4,4 L3.6,8.6 Q0,9.8 -3.6,8.6 Z" fill="#e4baa2"/><path d="M-5.3,-4 L5.3,-4 L5.2,2.5 Q4.6,6.6 0,7 Q-4.6,6.6 -5.2,2.5 Z" fill="#e4baa2"/><circle cx="-2.2" cy="0.4" r="0.75" fill="#2e211b" opacity="0.75"/><circle cx="2.2" cy="0.4" r="0.75" fill="#2e211b" opacity="0.75"/><path d="M-1.8,4 Q0,4.8 1.8,4" stroke="#6b3a2e" stroke-width="0.8" fill="none" opacity="0.7"/><path d="M-5.9,-3.2 Q-6.1,-10.2 0,-10.2 Q5.9,-10.2 5.7,-3.2 Q0,-4.2 -5.9,-3.2 Z" fill="#c42430"/></g><circle r="10.25" fill="none" stroke="#707070" stroke-width="1.5"/></g>
<g transform="translate(614.0,459.0)"><circle r="10.25" fill="#fff"/><g transform="scale(0.975)" clip-path="url(#fc)"><path d="M-7.5,8.6 Q-6.5,6.8 -3,6.6 L3,6.6 Q6.5,6.8 7.5,8.6 L8,10.2 Q0,12.4 -8,10.2 Z" fill="#e8e8ee"/><path d="M-3.4,4 L3.4,4 L3.6,8.6 Q0,9.8 -3.6,8.6 Z" fill="#694838"/><path d="M-5.3,-4 L5.3,-4 L5.2,2.5 Q4.6,6.6 0,7 Q-4.6,6.6 -5.2,2.5 Z" fill="#694838"/><circle cx="-2.2" cy="0.4" r="0.75" fill="#2e211b" opacity="0.75"/><circle cx="2.2" cy="0.4" r="0.75" fill="#2e211b" opacity="0.75"/><path d="M-1.8,4 Q0,4.8 1.8,4" stroke="#6b3a2e" stroke-width="0.8" fill="none" opacity="0.7"/><path d="M-5.9,-3.2 Q-6.1,-10.2 0,-10.2 Q5.9,-10.2 5.7,-3.2 Q0,-4.2 -5.9,-3.2 Z" fill="#18181f"/></g><circle r="10.25" fill="none" stroke="#707070" stroke-width="1.5"/></g>
<g transform="translate(622.0,477.0)"><circle r="10.25" fill="#fff"/><g transform="scale(0.975)" clip-path="url(#fc)"><path d="M-7.5,8.6 Q-6.5,6.8 -3,6.6 L3,6.6 Q6.5,6.8 7.5,8.6 L8,10.2 Q0,12.4 -8,10.2 Z" fill="#e8e8ee"/><path d="M-3.4,4 L3.4,4 L3.6,8.6 Q0,9.8 -3.6,8.6 Z" fill="#694838"/><path d="M-5.3,-4 L5.3,-4 L5.2,2.5 Q4.6,6.6 0,7 Q-4.6,6.6 -5.2,2.5 Z" fill="#694838"/><circle cx="-2.2" cy="0.4" r="0.75" fill="#2e211b" opacity="0.75"/><circle cx="2.2" cy="0.4" r="0.75" fill="#2e211b" opacity="0.75"/><path d="M-1.8,4 Q0,4.8 1.8,4" stroke="#6b3a2e" stroke-width="0.8" fill="none" opacity="0.7"/><path d="M-5.9,-3.2 Q-6.1,-10.2 0,-10.2 Q5.9,-10.2 5.7,-3.2 Q0,-4.2 -5.9,-3.2 Z" fill="#c42430"/></g><circle r="10.25" fill="none" stroke="#707070" stroke-width="1.5"/></g>
<g transform="translate(665.6,445.6)"><circle r="10.25" fill="#fff"/><g transform="scale(0.975)" clip-path="url(#fc)"><path d="M-7.5,8.6 Q-6.5,6.8 -3,6.6 L3,6.6 Q6.5,6.8 7.5,8.6 L8,10.2 Q0,12.4 -8,10.2 Z" fill="#f4f4f6"/><path d="M-3.4,4 L3.4,4 L3.6,8.6 Q0,9.8 -3.6,8.6 Z" fill="#e6bea6"/><path d="M-5.3,-4 L5.3,-4 L5.2,2.5 Q4.6,6.6 0,7 Q-4.6,6.6 -5.2,2.5 Z" fill="#e6bea6"/><circle cx="-2.2" cy="0.4" r="0.75" fill="#2e211b" opacity="0.75"/><circle cx="2.2" cy="0.4" r="0.75" fill="#2e211b" opacity="0.75"/><path d="M-1.8,4 Q0,4.8 1.8,4" stroke="#6b3a2e" stroke-width="0.8" fill="none" opacity="0.7"/><path d="M-5.9,-3.2 Q-6.1,-10.2 0,-10.2 Q5.9,-10.2 5.7,-3.2 Q0,-4.2 -5.9,-3.2 Z" fill="#c42430"/></g><circle r="10.25" fill="none" stroke="#707070" stroke-width="1.5"/></g>
<g transform="translate(680.0,457.0)"><circle r="10.25" fill="#fff"/><g transform="scale(0.975)" clip-path="url(#fc)"><path d="M-7.5,8.6 Q-6.5,6.8 -3,6.6 L3,6.6 Q6.5,6.8 7.5,8.6 L8,10.2 Q0,12.4 -8,10.2 Z" fill="#8a8d98"/><path d="M-3.4,4 L3.4,4 L3.6,8.6 Q0,9.8 -3.6,8.6 Z" fill="#c99d84"/><path d="M-5.3,-4 L5.3,-4 L5.2,2.5 Q4.6,6.6 0,7 Q-4.6,6.6 -5.2,2.5 Z" fill="#c99d84"/><circle cx="-2.2" cy="0.4" r="0.75" fill="#2e211b" opacity="0.75"/><circle cx="2.2" cy="0.4" r="0.75" fill="#2e211b" opacity="0.75"/><path d="M-4.9,2.2 Q-4.4,6.8 0,7 Q4.4,6.8 4.9,2.2 Q3.6,5.3 0,5.2 Q-3.6,5.3 -4.9,2.2 Z" fill="#2a1c16" opacity="0.7"/><path d="M-5.9,-3.2 Q-6.1,-10.2 0,-10.2 Q5.9,-10.2 5.7,-3.2 Q0,-4.2 -5.9,-3.2 Z" fill="#2450a8"/></g><circle r="10.25" fill="none" stroke="#707070" stroke-width="1.5"/></g>
<g transform="translate(662.7,465.0)"><circle r="10.25" fill="#fff"/><g transform="scale(0.975)" clip-path="url(#fc)"><path d="M-7.5,8.6 Q-6.5,6.8 -3,6.6 L3,6.6 Q6.5,6.8 7.5,8.6 L8,10.2 Q0,12.4 -8,10.2 Z" fill="#8a8d98"/><path d="M-3.4,4 L3.4,4 L3.6,8.6 Q0,9.8 -3.6,8.6 Z" fill="#e4baa2"/><path d="M-5.3,-4 L5.3,-4 L5.2,2.5 Q4.6,6.6 0,7 Q-4.6,6.6 -5.2,2.5 Z" fill="#e4baa2"/><circle cx="-2.2" cy="0.4" r="0.75" fill="#2e211b" opacity="0.75"/><circle cx="2.2" cy="0.4" r="0.75" fill="#2e211b" opacity="0.75"/><path d="M-1.8,4 Q0,4.8 1.8,4" stroke="#6b3a2e" stroke-width="0.8" fill="none" opacity="0.7"/><path d="M-5.9,-3.2 Q-6.1,-10.2 0,-10.2 Q5.9,-10.2 5.7,-3.2 Q0,-4.2 -5.9,-3.2 Z" fill="#c42430"/></g><circle r="10.25" fill="none" stroke="#707070" stroke-width="1.5"/></g>
<g transform="translate(678.6,477.0)"><circle r="10.25" fill="#fff"/><g transform="scale(0.975)" clip-path="url(#fc)"><path d="M-7.5,8.6 Q-6.5,6.8 -3,6.6 L3,6.6 Q6.5,6.8 7.5,8.6 L8,10.2 Q0,12.4 -8,10.2 Z" fill="#ffffff"/><path d="M-3.4,4 L3.4,4 L3.6,8.6 Q0,9.8 -3.6,8.6 Z" fill="#85604c"/><path d="M-5.3,-4 L5.3,-4 L5.2,2.5 Q4.6,6.6 0,7 Q-4.6,6.6 -5.2,2.5 Z" fill="#85604c"/><circle cx="-2.2" cy="0.4" r="0.75" fill="#2e211b" opacity="0.75"/><circle cx="2.2" cy="0.4" r="0.75" fill="#2e211b" opacity="0.75"/><path d="M-4.9,2.2 Q-4.4,6.8 0,7 Q4.4,6.8 4.9,2.2 Q3.6,5.3 0,5.2 Q-3.6,5.3 -4.9,2.2 Z" fill="#2a1c16" opacity="0.7"/><path d="M-5.9,-3.2 Q-6.1,-10.2 0,-10.2 Q5.9,-10.2 5.7,-3.2 Q0,-4.2 -5.9,-3.2 Z" fill="#1d2a52"/></g><circle r="10.25" fill="none" stroke="#707070" stroke-width="1.5"/></g>
<g transform="translate(705.4,481.4)"><circle r="11.45" fill="#fff"/><g transform="scale(1.081)" clip-path="url(#fc)"><path d="M-7.5,8.6 Q-6.5,6.8 -3,6.6 L3,6.6 Q6.5,6.8 7.5,8.6 L8,10.2 Q0,12.4 -8,10.2 Z" fill="#d5d8e0"/><path d="M-3.4,4 L3.4,4 L3.6,8.6 Q0,9.8 -3.6,8.6 Z" fill="#e4baa2"/><path d="M-5.3,-4 L5.3,-4 L5.2,2.5 Q4.6,6.6 0,7 Q-4.6,6.6 -5.2,2.5 Z" fill="#e4baa2"/><circle cx="-2.2" cy="0.4" r="0.75" fill="#2e211b" opacity="0.75"/><circle cx="2.2" cy="0.4" r="0.75" fill="#2e211b" opacity="0.75"/><path d="M-1.8,4 Q0,4.8 1.8,4" stroke="#6b3a2e" stroke-width="0.8" fill="none" opacity="0.7"/><path d="M-5.9,-3.2 Q-6.1,-10.2 0,-10.2 Q5.9,-10.2 5.7,-3.2 Q0,-4.2 -5.9,-3.2 Z" fill="#18181f"/></g><circle r="11.45" fill="none" stroke="#707070" stroke-width="1.5"/></g>
<g transform="translate(531.0,476.7)"><circle r="10.75" fill="#fff"/><g transform="scale(1.019)" clip-path="url(#fc)"><path d="M-7.5,8.6 Q-6.5,6.8 -3,6.6 L3,6.6 Q6.5,6.8 7.5,8.6 L8,10.2 Q0,12.4 -8,10.2 Z" fill="#f4f4f6"/><path d="M-3.4,4 L3.4,4 L3.6,8.6 Q0,9.8 -3.6,8.6 Z" fill="#e0b79e"/><path d="M-5.3,-4 L5.3,-4 L5.2,2.5 Q4.6,6.6 0,7 Q-4.6,6.6 -5.2,2.5 Z" fill="#e0b79e"/><circle cx="-2.2" cy="0.4" r="0.75" fill="#2e211b" opacity="0.75"/><circle cx="2.2" cy="0.4" r="0.75" fill="#2e211b" opacity="0.75"/><path d="M-1.8,4 Q0,4.8 1.8,4" stroke="#6b3a2e" stroke-width="0.8" fill="none" opacity="0.7"/><path d="M-5.9,-3.2 Q-6.1,-10.2 0,-10.2 Q5.9,-10.2 5.7,-3.2 Q0,-4.2 -5.9,-3.2 Z" fill="#c42430"/></g><circle r="10.75" fill="none" stroke="#707070" stroke-width="1.5"/></g>
<g transform="translate(560.6,457.6)"><circle r="10.75" fill="#fff"/><g transform="scale(1.019)" clip-path="url(#fc)"><path d="M-7.5,8.6 Q-6.5,6.8 -3,6.6 L3,6.6 Q6.5,6.8 7.5,8.6 L8,10.2 Q0,12.4 -8,10.2 Z" fill="#e8e8ee"/><path d="M-3.4,4 L3.4,4 L3.6,8.6 Q0,9.8 -3.6,8.6 Z" fill="#c99d84"/><path d="M-5.3,-4 L5.3,-4 L5.2,2.5 Q4.6,6.6 0,7 Q-4.6,6.6 -5.2,2.5 Z" fill="#c99d84"/><circle cx="-2.2" cy="0.4" r="0.75" fill="#2e211b" opacity="0.75"/><circle cx="2.2" cy="0.4" r="0.75" fill="#2e211b" opacity="0.75"/><path d="M-4.9,2.2 Q-4.4,6.8 0,7 Q4.4,6.8 4.9,2.2 Q3.6,5.3 0,5.2 Q-3.6,5.3 -4.9,2.2 Z" fill="#2a1c16" opacity="0.7"/><path d="M-5.9,-3.2 Q-6.1,-10.2 0,-10.2 Q5.9,-10.2 5.7,-3.2 Q0,-4.2 -5.9,-3.2 Z" fill="#18181f"/></g><circle r="10.75" fill="none" stroke="#707070" stroke-width="1.5"/></g>
<g transform="translate(564.9,431.2)"><circle r="11.25" fill="#fff"/><g transform="scale(1.063)" clip-path="url(#fc)"><path d="M-7.5,8.6 Q-6.5,6.8 -3,6.6 L3,6.6 Q6.5,6.8 7.5,8.6 L8,10.2 Q0,12.4 -8,10.2 Z" fill="#d5d8e0"/><path d="M-3.4,4 L3.4,4 L3.6,8.6 Q0,9.8 -3.6,8.6 Z" fill="#dcb199"/><path d="M-5.3,-4 L5.3,-4 L5.2,2.5 Q4.6,6.6 0,7 Q-4.6,6.6 -5.2,2.5 Z" fill="#dcb199"/><circle cx="-2.2" cy="0.4" r="0.75" fill="#2e211b" opacity="0.75"/><circle cx="2.2" cy="0.4" r="0.75" fill="#2e211b" opacity="0.75"/><path d="M-1.8,4 Q0,4.8 1.8,4" stroke="#6b3a2e" stroke-width="0.8" fill="none" opacity="0.7"/><path d="M-5.9,-3.2 Q-6.1,-10.2 0,-10.2 Q5.9,-10.2 5.7,-3.2 Q0,-4.2 -5.9,-3.2 Z" fill="#c42430"/></g><circle r="11.25" fill="none" stroke="#707070" stroke-width="1.5"/></g>
<g transform="translate(581.6,442.0)"><circle r="10.25" fill="#fff"/><g transform="scale(0.975)" clip-path="url(#fc)"><path d="M-7.5,8.6 Q-6.5,6.8 -3,6.6 L3,6.6 Q6.5,6.8 7.5,8.6 L8,10.2 Q0,12.4 -8,10.2 Z" fill="#e8e8ee"/><path d="M-3.4,4 L3.4,4 L3.6,8.6 Q0,9.8 -3.6,8.6 Z" fill="#bb8a70"/><path d="M-5.3,-4 L5.3,-4 L5.2,2.5 Q4.6,6.6 0,7 Q-4.6,6.6 -5.2,2.5 Z" fill="#bb8a70"/><circle cx="-2.2" cy="0.4" r="0.75" fill="#2e211b" opacity="0.75"/><circle cx="2.2" cy="0.4" r="0.75" fill="#2e211b" opacity="0.75"/><path d="M-1.8,4 Q0,4.8 1.8,4" stroke="#6b3a2e" stroke-width="0.8" fill="none" opacity="0.7"/><path d="M-5.9,-3.2 Q-6.1,-10.2 0,-10.2 Q5.9,-10.2 5.7,-3.2 Q0,-4.2 -5.9,-3.2 Z" fill="#18181f"/></g><circle r="10.25" fill="none" stroke="#707070" stroke-width="1.5"/></g>
<g transform="translate(596.0,427.8)"><circle r="10.25" fill="#fff"/><g transform="scale(0.975)" clip-path="url(#fc)"><path d="M-7.5,8.6 Q-6.5,6.8 -3,6.6 L3,6.6 Q6.5,6.8 7.5,8.6 L8,10.2 Q0,12.4 -8,10.2 Z" fill="#ffffff"/><path d="M-3.4,4 L3.4,4 L3.6,8.6 Q0,9.8 -3.6,8.6 Z" fill="#e4baa2"/><path d="M-5.3,-4 L5.3,-4 L5.2,2.5 Q4.6,6.6 0,7 Q-4.6,6.6 -5.2,2.5 Z" fill="#e4baa2"/><circle cx="-2.2" cy="0.4" r="0.75" fill="#2e211b" opacity="0.75"/><circle cx="2.2" cy="0.4" r="0.75" fill="#2e211b" opacity="0.75"/><path d="M-4.9,2.2 Q-4.4,6.8 0,7 Q4.4,6.8 4.9,2.2 Q3.6,5.3 0,5.2 Q-3.6,5.3 -4.9,2.2 Z" fill="#2a1c16" opacity="0.7"/><path d="M-5.9,-3.2 Q-6.1,-10.2 0,-10.2 Q5.9,-10.2 5.7,-3.2 Q0,-4.2 -5.9,-3.2 Z" fill="#1d2a52"/></g><circle r="10.25" fill="none" stroke="#707070" stroke-width="1.5"/></g>
<g transform="translate(599.6,446.0)"><circle r="10.25" fill="#fff"/><g transform="scale(0.975)" clip-path="url(#fc)"><path d="M-7.5,8.6 Q-6.5,6.8 -3,6.6 L3,6.6 Q6.5,6.8 7.5,8.6 L8,10.2 Q0,12.4 -8,10.2 Z" fill="#34406a"/><path d="M-3.4,4 L3.4,4 L3.6,8.6 Q0,9.8 -3.6,8.6 Z" fill="#e4baa2"/><path d="M-5.3,-4 L5.3,-4 L5.2,2.5 Q4.6,6.6 0,7 Q-4.6,6.6 -5.2,2.5 Z" fill="#e4baa2"/><circle cx="-2.2" cy="0.4" r="0.75" fill="#2e211b" opacity="0.75"/><circle cx="2.2" cy="0.4" r="0.75" fill="#2e211b" opacity="0.75"/><path d="M-4.9,2.2 Q-4.4,6.8 0,7 Q4.4,6.8 4.9,2.2 Q3.6,5.3 0,5.2 Q-3.6,5.3 -4.9,2.2 Z" fill="#2a1c16" opacity="0.7"/><path d="M-5.9,-3.2 Q-6.1,-10.2 0,-10.2 Q5.9,-10.2 5.7,-3.2 Q0,-4.2 -5.9,-3.2 Z" fill="#18181f"/></g><circle r="10.25" fill="none" stroke="#707070" stroke-width="1.5"/></g>
<g transform="translate(583.8,351.3)"><circle r="10.25" fill="#fff"/><g transform="scale(0.975)" clip-path="url(#fc)"><path d="M-7.5,8.6 Q-6.5,6.8 -3,6.6 L3,6.6 Q6.5,6.8 7.5,8.6 L8,10.2 Q0,12.4 -8,10.2 Z" fill="#34406a"/><path d="M-3.4,4 L3.4,4 L3.6,8.6 Q0,9.8 -3.6,8.6 Z" fill="#6f4632"/><path d="M-5.3,-4 L5.3,-4 L5.2,2.5 Q4.6,6.6 0,7 Q-4.6,6.6 -5.2,2.5 Z" fill="#6f4632"/><circle cx="-2.2" cy="0.4" r="0.75" fill="#2e211b" opacity="0.75"/><circle cx="2.2" cy="0.4" r="0.75" fill="#2e211b" opacity="0.75"/><path d="M-1.8,4 Q0,4.8 1.8,4" stroke="#6b3a2e" stroke-width="0.8" fill="none" opacity="0.7"/><path d="M-5.9,-3.2 Q-6.1,-10.2 0,-10.2 Q5.9,-10.2 5.7,-3.2 Q0,-4.2 -5.9,-3.2 Z" fill="#18181f"/></g><circle r="10.25" fill="none" stroke="#707070" stroke-width="1.5"/></g>
<g transform="translate(608.7,347.5)"><circle r="10.25" fill="#fff"/><g transform="scale(0.975)" clip-path="url(#fc)"><path d="M-7.5,8.6 Q-6.5,6.8 -3,6.6 L3,6.6 Q6.5,6.8 7.5,8.6 L8,10.2 Q0,12.4 -8,10.2 Z" fill="#d5d8e0"/><path d="M-3.4,4 L3.4,4 L3.6,8.6 Q0,9.8 -3.6,8.6 Z" fill="#dba584"/><path d="M-5.3,-4 L5.3,-4 L5.2,2.5 Q4.6,6.6 0,7 Q-4.6,6.6 -5.2,2.5 Z" fill="#dba584"/><circle cx="-2.2" cy="0.4" r="0.75" fill="#2e211b" opacity="0.75"/><circle cx="2.2" cy="0.4" r="0.75" fill="#2e211b" opacity="0.75"/><path d="M-1.8,4 Q0,4.8 1.8,4" stroke="#6b3a2e" stroke-width="0.8" fill="none" opacity="0.7"/><path d="M-5.9,-3.2 Q-6.1,-10.2 0,-10.2 Q5.9,-10.2 5.7,-3.2 Q0,-4.2 -5.9,-3.2 Z" fill="#18181f"/></g><circle r="10.25" fill="none" stroke="#707070" stroke-width="1.5"/></g>
<g transform="translate(621.0,343.6)"><circle r="10.25" fill="#fff"/><g transform="scale(0.975)" clip-path="url(#fc)"><path d="M-7.5,8.6 Q-6.5,6.8 -3,6.6 L3,6.6 Q6.5,6.8 7.5,8.6 L8,10.2 Q0,12.4 -8,10.2 Z" fill="#34406a"/><path d="M-3.4,4 L3.4,4 L3.6,8.6 Q0,9.8 -3.6,8.6 Z" fill="#9a6447"/><path d="M-5.3,-4 L5.3,-4 L5.2,2.5 Q4.6,6.6 0,7 Q-4.6,6.6 -5.2,2.5 Z" fill="#9a6447"/><circle cx="-2.2" cy="0.4" r="0.75" fill="#2e211b" opacity="0.75"/><circle cx="2.2" cy="0.4" r="0.75" fill="#2e211b" opacity="0.75"/><path d="M-4.9,2.2 Q-4.4,6.8 0,7 Q4.4,6.8 4.9,2.2 Q3.6,5.3 0,5.2 Q-3.6,5.3 -4.9,2.2 Z" fill="#2a1c16" opacity="0.7"/><path d="M-5.9,-3.2 Q-6.1,-10.2 0,-10.2 Q5.9,-10.2 5.7,-3.2 Q0,-4.2 -5.9,-3.2 Z" fill="#1d2a52"/></g><circle r="10.25" fill="none" stroke="#707070" stroke-width="1.5"/></g>
<g transform="translate(650.5,355.0)"><circle r="10.75" fill="#fff"/><g transform="scale(1.019)" clip-path="url(#fc)"><path d="M-7.5,8.6 Q-6.5,6.8 -3,6.6 L3,6.6 Q6.5,6.8 7.5,8.6 L8,10.2 Q0,12.4 -8,10.2 Z" fill="#f4f4f6"/><path d="M-3.4,4 L3.4,4 L3.6,8.6 Q0,9.8 -3.6,8.6 Z" fill="#dba584"/><path d="M-5.3,-4 L5.3,-4 L5.2,2.5 Q4.6,6.6 0,7 Q-4.6,6.6 -5.2,2.5 Z" fill="#dba584"/><circle cx="-2.2" cy="0.4" r="0.75" fill="#2e211b" opacity="0.75"/><circle cx="2.2" cy="0.4" r="0.75" fill="#2e211b" opacity="0.75"/><path d="M-4.9,2.2 Q-4.4,6.8 0,7 Q4.4,6.8 4.9,2.2 Q3.6,5.3 0,5.2 Q-3.6,5.3 -4.9,2.2 Z" fill="#2a1c16" opacity="0.7"/><path d="M-5.9,-3.2 Q-6.1,-10.2 0,-10.2 Q5.9,-10.2 5.7,-3.2 Q0,-4.2 -5.9,-3.2 Z" fill="#27472c"/></g><circle r="10.75" fill="none" stroke="#707070" stroke-width="1.5"/></g>
<g transform="translate(500.0,348.0)"><circle r="10.25" fill="#fff"/><g transform="scale(0.975)" clip-path="url(#fc)"><path d="M-7.5,8.6 Q-6.5,6.8 -3,6.6 L3,6.6 Q6.5,6.8 7.5,8.6 L8,10.2 Q0,12.4 -8,10.2 Z" fill="#ffffff"/><path d="M-3.4,4 L3.4,4 L3.6,8.6 Q0,9.8 -3.6,8.6 Z" fill="#dba584"/><path d="M-5.3,-4 L5.3,-4 L5.2,2.5 Q4.6,6.6 0,7 Q-4.6,6.6 -5.2,2.5 Z" fill="#dba584"/><circle cx="-2.2" cy="0.4" r="0.75" fill="#2e211b" opacity="0.75"/><circle cx="2.2" cy="0.4" r="0.75" fill="#2e211b" opacity="0.75"/><path d="M-4.9,2.2 Q-4.4,6.8 0,7 Q4.4,6.8 4.9,2.2 Q3.6,5.3 0,5.2 Q-3.6,5.3 -4.9,2.2 Z" fill="#2a1c16" opacity="0.7"/><path d="M-5.9,-3.2 Q-6.1,-10.2 0,-10.2 Q5.9,-10.2 5.7,-3.2 Q0,-4.2 -5.9,-3.2 Z" fill="#1d2a52"/></g><circle r="10.25" fill="none" stroke="#707070" stroke-width="1.5"/></g>
<g transform="translate(520.0,345.0)"><circle r="10.25" fill="#fff"/><g transform="scale(0.975)" clip-path="url(#fc)"><path d="M-7.5,8.6 Q-6.5,6.8 -3,6.6 L3,6.6 Q6.5,6.8 7.5,8.6 L8,10.2 Q0,12.4 -8,10.2 Z" fill="#e8e8ee"/><path d="M-3.4,4 L3.4,4 L3.6,8.6 Q0,9.8 -3.6,8.6 Z" fill="#e3b08f"/><path d="M-5.3,-4 L5.3,-4 L5.2,2.5 Q4.6,6.6 0,7 Q-4.6,6.6 -5.2,2.5 Z" fill="#e3b08f"/><circle cx="-2.2" cy="0.4" r="0.75" fill="#2e211b" opacity="0.75"/><circle cx="2.2" cy="0.4" r="0.75" fill="#2e211b" opacity="0.75"/><path d="M-4.9,2.2 Q-4.4,6.8 0,7 Q4.4,6.8 4.9,2.2 Q3.6,5.3 0,5.2 Q-3.6,5.3 -4.9,2.2 Z" fill="#2a1c16" opacity="0.7"/><path d="M-5.9,-3.2 Q-6.1,-10.2 0,-10.2 Q5.9,-10.2 5.7,-3.2 Q0,-4.2 -5.9,-3.2 Z" fill="#1d2a52"/></g><circle r="10.25" fill="none" stroke="#707070" stroke-width="1.5"/></g>
<g transform="translate(545.0,342.0)"><circle r="10.25" fill="#fff"/><g transform="scale(0.975)" clip-path="url(#fc)"><path d="M-7.5,8.6 Q-6.5,6.8 -3,6.6 L3,6.6 Q6.5,6.8 7.5,8.6 L8,10.2 Q0,12.4 -8,10.2 Z" fill="#8a8d98"/><path d="M-3.4,4 L3.4,4 L3.6,8.6 Q0,9.8 -3.6,8.6 Z" fill="#9a6447"/><path d="M-5.3,-4 L5.3,-4 L5.2,2.5 Q4.6,6.6 0,7 Q-4.6,6.6 -5.2,2.5 Z" fill="#9a6447"/><circle cx="-2.2" cy="0.4" r="0.75" fill="#2e211b" opacity="0.75"/><circle cx="2.2" cy="0.4" r="0.75" fill="#2e211b" opacity="0.75"/><path d="M-4.9,2.2 Q-4.4,6.8 0,7 Q4.4,6.8 4.9,2.2 Q3.6,5.3 0,5.2 Q-3.6,5.3 -4.9,2.2 Z" fill="#2a1c16" opacity="0.7"/><path d="M-5.9,-3.2 Q-6.1,-10.2 0,-10.2 Q5.9,-10.2 5.7,-3.2 Q0,-4.2 -5.9,-3.2 Z" fill="#2450a8"/></g><circle r="10.25" fill="none" stroke="#707070" stroke-width="1.5"/></g>
<rect x="497" y="311.5" width="80" height="27" rx="4.5" fill="rgba(32,32,32,0.84)" stroke="#fff" stroke-width="1.8"/><text x="506" y="330.2" font-size="13.4" fill="#f4f4f4">Smith, Will</text>
<rect x="471.8" y="326.8" width="92.7" height="26.5" rx="4.5" fill="rgba(32,32,32,0.84)" stroke="#fff" stroke-width="1.8"/><text x="479.8" y="345.6" font-size="13.4" fill="#f4f4f4">Ward, Taylor</text>
<rect x="557.6" y="339.6" width="104.8" height="27.8" rx="4.5" fill="rgba(32,32,32,0.84)" stroke="#fff" stroke-width="1.8"/><text x="566.8" y="358.6" font-size="13.4" fill="#f4f4f4">Bregman, Alex</text>
<g transform="translate(536.6,294.6)"><circle r="10.80" fill="#3b989c"/><g transform="scale(1.001)" clip-path="url(#fc)"><path d="M-7.5,8.6 Q-6.5,6.8 -3,6.6 L3,6.6 Q6.5,6.8 7.5,8.6 L8,10.2 Q0,12.4 -8,10.2 Z" fill="#3b989c"/><path d="M-3.4,4 L3.4,4 L3.6,8.6 Q0,9.8 -3.6,8.6 Z" fill="#efc0a8"/><path d="M-5.3,-4 L5.3,-4 L5.2,2.5 Q4.6,6.6 0,7 Q-4.6,6.6 -5.2,2.5 Z" fill="#efc0a8"/><circle cx="-2.2" cy="0.4" r="0.75" fill="#2e211b" opacity="0.75"/><circle cx="2.2" cy="0.4" r="0.75" fill="#2e211b" opacity="0.75"/><path d="M-1.8,4 Q0,4.8 1.8,4" stroke="#6b3a2e" stroke-width="0.8" fill="none" opacity="0.7"/><path d="M-5.9,-3.2 Q-6.1,-10.2 0,-10.2 Q5.9,-10.2 5.7,-3.2 Q0,-4.2 -5.9,-3.2 Z" fill="#1f3a8c"/></g><circle r="10.80" fill="none" stroke="#3b989c" stroke-width="1"/></g>
<g transform="translate(517.3,309.1)"><circle r="11.50" fill="#3b989c"/><g transform="scale(1.063)" clip-path="url(#fc)"><path d="M-7.5,8.6 Q-6.5,6.8 -3,6.6 L3,6.6 Q6.5,6.8 7.5,8.6 L8,10.2 Q0,12.4 -8,10.2 Z" fill="#f4f4f4"/><path d="M-3.4,4 L3.4,4 L3.6,8.6 Q0,9.8 -3.6,8.6 Z" fill="#e2b092"/><path d="M-5.3,-4 L5.3,-4 L5.2,2.5 Q4.6,6.6 0,7 Q-4.6,6.6 -5.2,2.5 Z" fill="#e2b092"/><circle cx="-2.2" cy="0.4" r="0.75" fill="#2e211b" opacity="0.75"/><circle cx="2.2" cy="0.4" r="0.75" fill="#2e211b" opacity="0.75"/><path d="M-4.9,2.2 Q-4.4,6.8 0,7 Q4.4,6.8 4.9,2.2 Q3.6,5.3 0,5.2 Q-3.6,5.3 -4.9,2.2 Z" fill="#2a1c16" opacity="0.7"/><path d="M-5.9,-3.2 Q-6.1,-10.2 0,-10.2 Q5.9,-10.2 5.7,-3.2 Q0,-4.2 -5.9,-3.2 Z" fill="#ececec"/><path d="M-6,-3.3 Q0,-4.4 5.8,-3.3 L5.8,-2.2 Q0,-3.3 -6,-2.2 Z" fill="#1a1a1a"/><circle cx="0" cy="-7" r="1.6" fill="#e06a20"/></g><circle r="11.50" fill="none" stroke="#3b989c" stroke-width="1"/></g>
<g transform="translate(610.0,323.0)"><circle r="11.00" fill="#3b989c"/><g transform="scale(1.019)" clip-path="url(#fc)"><path d="M-7.5,8.6 Q-6.5,6.8 -3,6.6 L3,6.6 Q6.5,6.8 7.5,8.6 L8,10.2 Q0,12.4 -8,10.2 Z" fill="#3b989c"/><path d="M-3.4,4 L3.4,4 L3.6,8.6 Q0,9.8 -3.6,8.6 Z" fill="#f0c6ae"/><path d="M-5.3,-4 L5.3,-4 L5.2,2.5 Q4.6,6.6 0,7 Q-4.6,6.6 -5.2,2.5 Z" fill="#f0c6ae"/><circle cx="-2.2" cy="0.4" r="0.75" fill="#2e211b" opacity="0.75"/><circle cx="2.2" cy="0.4" r="0.75" fill="#2e211b" opacity="0.75"/><path d="M-1.8,4 Q0,4.8 1.8,4" stroke="#6b3a2e" stroke-width="0.8" fill="none" opacity="0.7"/><path d="M-5.9,-3.2 Q-6.1,-10.2 0,-10.2 Q5.9,-10.2 5.7,-3.2 Q0,-4.2 -5.9,-3.2 Z" fill="#22253a"/></g><circle r="11.00" fill="none" stroke="#3b989c" stroke-width="1"/></g>
<g transform="translate(481.0,357.7)"><circle r="10.25" fill="#fff"/><g transform="scale(0.975)" clip-path="url(#fc)"><path d="M-7.5,8.6 Q-6.5,6.8 -3,6.6 L3,6.6 Q6.5,6.8 7.5,8.6 L8,10.2 Q0,12.4 -8,10.2 Z" fill="#ffffff"/><path d="M-3.4,4 L3.4,4 L3.6,8.6 Q0,9.8 -3.6,8.6 Z" fill="#c4937a"/><path d="M-5.3,-4 L5.3,-4 L5.2,2.5 Q4.6,6.6 0,7 Q-4.6,6.6 -5.2,2.5 Z" fill="#c4937a"/><circle cx="-2.2" cy="0.4" r="0.75" fill="#2e211b" opacity="0.75"/><circle cx="2.2" cy="0.4" r="0.75" fill="#2e211b" opacity="0.75"/><path d="M-1.8,4 Q0,4.8 1.8,4" stroke="#6b3a2e" stroke-width="0.8" fill="none" opacity="0.7"/><path d="M-5.9,-3.2 Q-6.1,-10.2 0,-10.2 Q5.9,-10.2 5.7,-3.2 Q0,-4.2 -5.9,-3.2 Z" fill="#18181f"/></g><circle r="10.25" fill="none" stroke="#707070" stroke-width="1.5"/></g>
<g transform="translate(645.0,375.4)"><circle r="10.15" fill="#fff"/><g transform="scale(0.966)" clip-path="url(#fc)"><path d="M-7.5,8.6 Q-6.5,6.8 -3,6.6 L3,6.6 Q6.5,6.8 7.5,8.6 L8,10.2 Q0,12.4 -8,10.2 Z" fill="#f0f0f0"/><path d="M-3.4,4 L3.4,4 L3.6,8.6 Q0,9.8 -3.6,8.6 Z" fill="#c99d84"/><path d="M-5.3,-4 L5.3,-4 L5.2,2.5 Q4.6,6.6 0,7 Q-4.6,6.6 -5.2,2.5 Z" fill="#c99d84"/><circle cx="-2.2" cy="0.4" r="0.75" fill="#2e211b" opacity="0.75"/><circle cx="2.2" cy="0.4" r="0.75" fill="#2e211b" opacity="0.75"/><path d="M-4.9,2.2 Q-4.4,6.8 0,7 Q4.4,6.8 4.9,2.2 Q3.6,5.3 0,5.2 Q-3.6,5.3 -4.9,2.2 Z" fill="#2a1c16" opacity="0.7"/><path d="M-5.9,-3.2 Q-6.1,-10.2 0,-10.2 Q5.9,-10.2 5.7,-3.2 Q0,-4.2 -5.9,-3.2 Z" fill="#18181f"/></g><circle r="10.15" fill="none" stroke="#707070" stroke-width="1.5"/></g>
</svg></body></html>
